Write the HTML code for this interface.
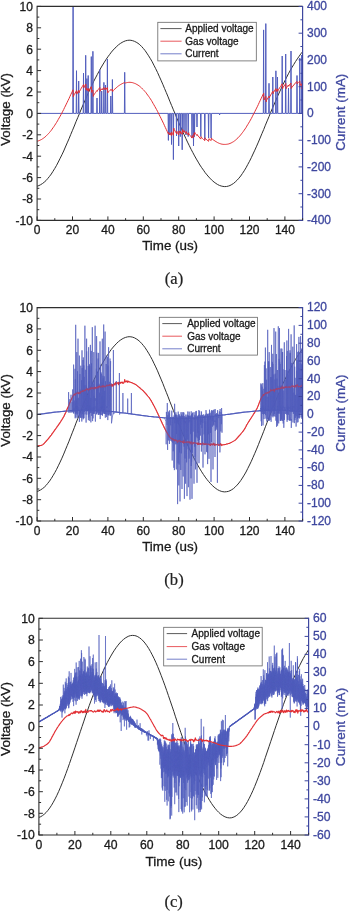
<!DOCTYPE html>
<html><head><meta charset="utf-8"><title>Voltage and current waveforms</title>
<style>
html,body{margin:0;padding:0;background:#fff;}
body{width:350px;height:911px;overflow:hidden;font-family:"Liberation Sans",sans-serif;}
svg{display:block;will-change:transform;}
text{font-family:"Liberation Sans",sans-serif;fill:#1a1a1a;stroke:#1a1a1a;stroke-width:0.3px;}
.tk{font-size:12px;}
.tt{font-size:13.35px;}
.lg{font-size:10px;}
.bl{fill:#3e479f;stroke:#3e479f;}
.cap{font-family:"Liberation Serif",serif;font-size:16.6px;fill:#222;stroke:#222;stroke-width:0.2px;}
</style></head><body>
<svg width="350" height="911" viewBox="0 0 350 911">
<rect width="350" height="911" fill="#fff"/>
<clipPath id="ca"><rect x="37.1" y="6.4" width="265.5" height="214"/></clipPath>
<path d="M37.1,186.2L38.9,185.6L40.6,184.7L42.4,183.6L44.2,182.2L46,180.6L47.7,178.6L49.5,176.4L51.3,174L53,171.3L54.8,168.4L56.6,165.3L58.3,162L60.1,158.4L61.9,154.8L63.7,151L65.4,147L67.2,142.9L69,138.8L70.7,134.6L72.5,130.3L74.3,126L76,121.7L77.8,117.5L79.6,113.2L81.3,109L83.1,104.8L84.9,100.7L86.7,96.6L88.4,92.7L90.2,88.8L92,85.1L93.7,81.4L95.5,77.9L97.3,74.5L99.1,71.2L100.8,68L102.6,65L104.4,62.1L106.1,59.4L107.9,56.8L109.7,54.4L111.4,52.1L113.2,50L115,48.1L116.8,46.4L118.5,44.8L120.3,43.5L122.1,42.4L123.8,41.5L125.6,40.8L127.4,40.4L129.1,40.2L130.9,40.3L132.7,40.7L134.4,41.3L136.2,42.2L138,43.3L139.8,44.7L141.5,46.4L143.3,48.4L145.1,50.6L146.8,53.1L148.6,55.8L150.4,58.7L152.2,61.8L153.9,65.2L155.7,68.7L157.5,72.4L159.2,76.2L161,80.2L162.8,84.3L164.5,88.4L166.3,92.6L168.1,96.9L169.8,101.2L171.6,105.5L173.4,109.8L175.2,114L176.9,118.3L178.7,122.4L180.5,126.5L182.2,130.6L184,134.5L185.8,138.4L187.5,142.1L189.3,145.7L191.1,149.3L192.9,152.7L194.6,155.9L196.4,159.1L198.2,162.1L199.9,165L201.7,167.7L203.5,170.2L205.2,172.7L207,174.9L208.8,177L210.6,178.9L212.3,180.6L214.1,182.1L215.9,183.4L217.6,184.5L219.4,185.4L221.2,186L222.9,186.4L224.7,186.6L226.5,186.5L228.3,186.1L230,185.5L231.8,184.5L233.6,183.4L235.3,181.9L237.1,180.2L238.9,178.2L240.7,176L242.4,173.5L244.2,170.8L246,167.8L247.7,164.6L249.5,161.3L251.3,157.7L253,154L254.8,150.2L256.6,146.2L258.4,142.1L260.1,138L261.9,133.7L263.7,129.5L265.4,125.2L267.2,120.9L269,116.6L270.7,112.3L272.5,108.1L274.3,104L276.1,99.9L277.8,95.8L279.6,91.9L281.4,88.1L283.1,84.3L284.9,80.7L286.7,77.2L288.4,73.8L290.2,70.5L292,67.4L293.8,64.4L295.5,61.6L297.3,58.9L299.1,56.3L300.8,53.9L302.6,51.7" fill="none" stroke="#303030" stroke-width="1.0" stroke-linejoin="round" clip-path="url(#ca)"/>
<path d="M37.1,113.4L72.8,113.4L73.1,-20L73.4,113.4L76.2,113.4L76.5,70.7L76.8,113.4L78.4,113.4L78.7,81L79,113.4L83.2,113.4L83.5,73L83.8,113.4L85.4,113.4L85.7,55.3L86,113.4L86.6,113.4L86.9,78.6L87.2,113.4L87.9,113.4L88.2,75.5L88.5,113.4L91,113.4L91.3,56.6L91.6,113.4L92.6,113.4L92.9,51.3L93.2,113.4L96.7,113.4L97,98L97.3,113.4L99.5,113.4L99.8,69.8L100.1,113.4L101.4,113.4L101.7,91L102,113.4L103.6,113.4L103.9,82.4L104.2,113.4L105.2,113.4L105.5,85L105.8,113.4L107.1,113.4L107.4,59L107.7,113.4L110.5,113.4L110.8,96L111.1,113.4L112.1,113.4L112.4,79.5L112.7,113.4L124.4,113.4L124.7,72.3L125,113.4L168.1,113.4L168.4,140.4L168.7,113.4L169.6,113.4L169.9,135L170.2,113.4L171.2,113.4L171.5,144.5L171.8,113.4L173.1,113.4L173.4,159.6L173.7,113.4L176.2,113.4L176.5,136L176.8,113.4L178.4,113.4L178.7,146L179,113.4L180,113.4L180.3,136.6L180.6,113.4L181.9,113.4L182.2,149.8L182.5,113.4L183.7,113.4L184,131.9L184.3,113.4L185.7,113.4L186,135L186.3,113.4L187.9,113.4L188.2,136.6L188.5,113.4L191.7,113.4L192,138L192.3,113.4L193.2,113.4L193.5,146L193.8,113.4L194.2,113.4L194.5,136.6L194.8,113.4L196.7,113.4L197,127L197.3,113.4L200.5,113.4L200.8,136.6L201.1,113.4L204.5,113.4L204.8,139.7L205.1,113.4L208.3,113.4L208.6,138L208.9,113.4L210.8,113.4L211.1,138L211.4,113.4L219.3,113.4L219.6,115L219.9,113.4L263.3,113.4L263.6,29.9L263.9,113.4L265.5,113.4L265.8,23.6L266.1,113.4L268.7,113.4L269,83.3L269.3,113.4L272.5,113.4L272.8,77L273.1,113.4L275.6,113.4L275.9,70.8L276.2,113.4L277.2,113.4L277.5,77L277.8,113.4L281.9,113.4L282.2,56L282.5,113.4L285.4,113.4L285.7,54L286,113.4L288.2,113.4L288.5,88L288.8,113.4L290.7,113.4L291,51L291.3,113.4L296.7,113.4L297,75.5L297.3,113.4L299.5,113.4L299.8,58L300.1,113.4L301.4,113.4L301.7,55L302,113.4L302.6,113.4" fill="none" stroke="#525ebd" stroke-width="1.0" stroke-linejoin="round" clip-path="url(#ca)"/>
<path d="M37.1,141.2L38,141L38.9,140.7L39.8,140.3L40.6,139.9L41.5,139.5L42.4,138.9L43.3,138.3L44.2,137.7L45.1,136.9L46,136.2L46.8,135.3L47.7,134.4L48.6,133.5L49.5,132.5L50.4,131.4L51.3,130.3L52.1,129.1L53,127.8L53.9,126.6L54.8,125.2L55.7,123.8L56.6,122.4L57.5,120.9L58.3,119.4L59.2,117.9L60.1,116.3L61,114.6L61.9,113L62.8,111.2L63.7,109.5L64.5,107.7L65.4,106L66.3,104.1L67.2,102.3L68.1,100.4L69,98.6L69.8,96.7L70.7,94.8L71.6,92.9L72.5,91L73,89.8L73.4,96.8L73.4,96.1L74.3,94.6L75.2,93L76,91.5L76.6,90.6L77,94.1L76.9,93.5L77.8,92L78.7,90.4L79.1,92.8L79.6,91.2L80.5,89.7L81.3,88.2L82.2,86.7L83.1,85.2L83.5,84.6L83.9,87.8L84,87L84.9,85.5L85.8,84L86.2,89.9L86.7,88.4L86.8,88.2L87.2,90.7L87.5,89.6L88.3,88.5L88.7,91.4L88.4,91.1L89.3,89.7L90.2,88.4L91.1,87L91.3,86.7L91.7,92.4L92,91.3L92.9,90L93.3,96.4L93.7,95.1L94.6,93.8L95.5,92.6L96.4,91.3L96.9,90.6L97.3,91.3L97.3,90.8L98.2,89.6L99.1,88.4L99.8,87.5L100.2,91.2L99.9,91L100.8,89.9L101.7,88.8L102.1,90L102.6,89L103.5,87.9L103.8,87.5L104.2,89.7L104.4,89L105.2,88L105.4,87.8L105.8,89.7L106.1,88.9L107,88L107.4,87.6L107.8,92.9L107.9,92.4L108.8,91.5L109.7,90.6L110.6,89.8L110.7,89.6L111.1,90.5L111.4,89.8L112.3,89.1L112.7,91.5L113.2,90.6L114.1,89.7L115,88.9L115.9,88.1L116.8,87.3L117.6,86.6L118.5,85.9L119.4,85.3L120.3,84.7L121.2,84.2L122.1,83.7L122.9,83.3L123.8,82.9L124.7,82.6L125.1,83.1L125.6,82.9L126.5,82.7L127.4,82.5L128.3,82.4L129.1,82.3L130,82.3L130.9,82.4L131.8,82.5L132.7,82.7L133.6,83L134.4,83.3L135.3,83.6L136.2,84.1L137.1,84.6L138,85.1L138.9,85.7L139.8,86.4L140.6,87.1L141.5,87.9L142.4,88.8L143.3,89.7L144.2,90.6L145.1,91.7L146,92.7L146.8,93.9L147.7,95.1L148.6,96.3L149.5,97.6L150.4,98.9L151.3,100.3L152.2,101.8L153,103.3L153.9,104.8L154.8,106.4L155.7,108L156.6,109.6L157.5,111.3L158.3,113L159.2,114.7L160.1,116.5L161,118.3L161.9,120.1L162.8,122L163.7,123.8L164.5,125.7L165.4,127.6L166.3,129.5L167.2,131.4L168.1,133.3L168.4,134.1L168.8,132.5L169,133.4L169.8,135L170.2,132.9L170.7,134.4L171.4,135.6L171.8,131.9L171.6,132.2L172.5,133.7L173.4,135.3L173.8,128.1L174.3,129.7L175.2,131.2L176,132.7L176.6,133.6L177,131.4L176.9,132L177.8,133.5L178.7,135L179.1,130.9L179.6,132.4L180.3,133.5L180.7,131.2L180.5,131.5L181.4,132.9L182.2,134.4L182.6,129.5L183.1,130.9L184,132.3L184.4,130.7L184.9,132.1L185.8,133.5L186,133.7L186.4,131.6L186.7,132.7L187.5,134L188.3,135.1L188.7,132.7L188.4,133L189.3,134.3L190.2,135.6L191.1,136.8L192,138.1L192.4,135.5L192.9,136.7L193.6,137.6L194,133.5L193.7,133.8L194.5,134.7L194.9,132.3L194.6,132.6L195.5,133.7L196.4,134.8L196.9,135.5L197.3,134.5L197.3,134.9L198.2,136L199.1,137L199.9,138.1L200.8,139.1L201.2,136.7L201.7,137.6L202.6,138.6L203.5,139.5L204.4,140.4L204.7,140.7L205.1,137.8L205.2,138.3L206.1,139.2L207,140L207.9,140.7L208.6,141.3L209,138.7L208.8,138.9L209.7,139.6L210.6,140.2L211.1,140.6L211.5,138L211.4,138.3L212.3,139.1L213.2,139.8L214.1,140.4L215,141L215.9,141.6L216.8,142.1L217.6,142.6L218.5,143L219.4,143.4L220.3,143.7L221.2,144L222.1,144.2L222.9,144.3L223.8,144.4L224.7,144.4L225.6,144.4L226.5,144.3L227.4,144.2L228.3,144L229.1,143.8L230,143.4L230.9,143.1L231.8,142.6L232.7,142.1L233.6,141.6L234.5,140.9L235.3,140.3L236.2,139.5L237.1,138.7L238,137.8L238.9,136.9L239.8,135.9L240.7,134.9L241.5,133.8L242.4,132.7L243.3,131.5L244.2,130.2L245.1,128.9L246,127.6L246.8,126.1L247.7,124.7L248.6,123.2L249.5,121.7L250.4,120.1L251.3,118.5L252.2,116.8L253,115.1L253.9,113.4L254.8,111.7L255.7,109.9L256.6,108.1L257.5,106.3L258.4,104.4L259.2,102.6L260.1,100.7L261,98.8L261.9,96.9L262.8,95L263.7,93.1L264.1,100L264.5,98.5L265.4,96.9L265.8,96.3L266.2,101.8L266.3,100.8L267.2,99.3L268.1,97.7L269,96.2L269.4,97.9L269.9,96.4L270.7,94.9L271.6,93.4L272.5,91.8L272.9,91.2L273.3,93.6L273.4,92.7L274.3,91.2L275.2,89.7L275.9,88.5L276.3,91.6L276.1,91.3L276.9,89.8L277.5,89L277.9,91.3L277.8,90.8L278.7,89.3L279.6,87.9L280.5,86.5L281.4,85.2L282.2,83.8L282.6,88.7L283.1,87.4L284,86L284.9,84.8L285.8,83.5L286.2,88.6L286.7,87.4L287.6,86.2L288.4,85L288.8,86.3L289.3,85.1L290.2,83.9L290.9,83L291.3,88.5L291.1,88.3L292,87.2L292.9,86.1L293.8,85L294.6,84L295.5,82.9L296.4,82L296.9,81.4L297.3,83.9L297.3,83.5L298.2,82.6L299.1,81.7L299.8,81L300.2,85.6L299.9,85.4L300.8,84.6L301.7,83.7L302.1,88.8L302.6,87.8" fill="none" stroke="#e22f34" stroke-width="1.0" stroke-linejoin="round" clip-path="url(#ca)"/>
<rect x="157.8" y="22.3" width="98.5" height="38.6" fill="#fff" stroke="#666" stroke-width="0.8"/>
<path d="M160.4,28.6H181.6" stroke="#303030" stroke-width="0.8"/>
<text x="185.3" y="32.2" class="lg">Applied voltage</text>
<path d="M160.4,41.2H181.6" stroke="#e22f34" stroke-width="0.8"/>
<text x="185.3" y="44.8" class="lg">Gas voltage</text>
<path d="M160.4,53.8H181.6" stroke="#525ebd" stroke-width="0.8"/>
<text x="185.3" y="57.4" class="lg">Current</text>
<path d="M302.6,6.4L37.1,6.4L37.1,220.4L302.6,220.4" fill="none" stroke="#2e2e2e" stroke-width="1.1"/>
<path d="M302.6,5.9L302.6,220.9" fill="none" stroke="#3e479f" stroke-width="1.2"/>
<path d="M37.1,6.4h4M37.1,17.1h2.2M37.1,27.8h4M37.1,38.5h2.2M37.1,49.2h4M37.1,59.9h2.2M37.1,70.6h4M37.1,81.3h2.2M37.1,92h4M37.1,102.7h2.2M37.1,113.4h4M37.1,124.1h2.2M37.1,134.8h4M37.1,145.5h2.2M37.1,156.2h4M37.1,166.9h2.2M37.1,177.6h4M37.1,188.3h2.2M37.1,199h4M37.1,209.7h2.2M37.1,220.4h4M37.1,220.4v-4M54.8,220.4v-2.2M72.5,220.4v-4M90.2,220.4v-2.2M107.9,220.4v-4M125.6,220.4v-2.2M143.3,220.4v-4M161,220.4v-2.2M178.7,220.4v-4M196.4,220.4v-2.2M214.1,220.4v-4M231.8,220.4v-2.2M249.5,220.4v-4M267.2,220.4v-2.2M284.9,220.4v-4M302.6,220.4v-2.2" stroke="#2e2e2e" stroke-width="1" fill="none"/>
<path d="M302.6,6.4h-4M302.6,19.8h-2.2M302.6,33.2h-4M302.6,46.5h-2.2M302.6,59.9h-4M302.6,73.3h-2.2M302.6,86.7h-4M302.6,100h-2.2M302.6,113.4h-4M302.6,126.8h-2.2M302.6,140.2h-4M302.6,153.5h-2.2M302.6,166.9h-4M302.6,180.3h-2.2M302.6,193.7h-4M302.6,207h-2.2M302.6,220.4h-4" stroke="#3e479f" stroke-width="1" fill="none"/>
<text x="32.9" y="10.7" text-anchor="end" class="tk">10</text>
<text x="32.9" y="32.1" text-anchor="end" class="tk">8</text>
<text x="32.9" y="53.5" text-anchor="end" class="tk">6</text>
<text x="32.9" y="74.9" text-anchor="end" class="tk">4</text>
<text x="32.9" y="96.3" text-anchor="end" class="tk">2</text>
<text x="32.9" y="117.7" text-anchor="end" class="tk">0</text>
<text x="32.9" y="139.1" text-anchor="end" class="tk">-2</text>
<text x="32.9" y="160.5" text-anchor="end" class="tk">-4</text>
<text x="32.9" y="181.9" text-anchor="end" class="tk">-6</text>
<text x="32.9" y="203.3" text-anchor="end" class="tk">-8</text>
<text x="32.9" y="224.7" text-anchor="end" class="tk">-10</text>
<text x="37.1" y="234.2" text-anchor="middle" class="tk">0</text>
<text x="72.5" y="234.2" text-anchor="middle" class="tk">20</text>
<text x="107.9" y="234.2" text-anchor="middle" class="tk">40</text>
<text x="143.3" y="234.2" text-anchor="middle" class="tk">60</text>
<text x="178.7" y="234.2" text-anchor="middle" class="tk">80</text>
<text x="214.1" y="234.2" text-anchor="middle" class="tk">100</text>
<text x="249.5" y="234.2" text-anchor="middle" class="tk">120</text>
<text x="284.9" y="234.2" text-anchor="middle" class="tk">140</text>
<text x="307" y="10.2" class="tk bl">400</text>
<text x="307" y="37" class="tk bl">300</text>
<text x="307" y="63.7" class="tk bl">200</text>
<text x="307" y="90.5" class="tk bl">100</text>
<text x="307" y="117.2" class="tk bl">0</text>
<text x="307" y="144" class="tk bl">-100</text>
<text x="307" y="170.7" class="tk bl">-200</text>
<text x="307" y="197.5" class="tk bl">-300</text>
<text x="307" y="224.2" class="tk bl">-400</text>
<text transform="translate(9.7,109.5) rotate(-90)" text-anchor="middle" class="tt">Voltage (kV)</text>
<text transform="translate(345,112.3) rotate(-90)" text-anchor="middle" class="tt bl">Current (mA)</text>
<text x="170.1" y="250.4" text-anchor="middle" class="tt">Time (us)</text>
<text x="174" y="283.5" text-anchor="middle" class="cap">(a)</text>
<clipPath id="cb"><rect x="37.1" y="307.6" width="265.5" height="213.4"/></clipPath>
<path d="M37.1,491.5L38.9,490.8L40.6,489.9L42.4,488.7L44.2,487.3L46,485.5L47.7,483.4L49.5,481.1L51.3,478.5L53,475.7L54.8,472.6L56.6,469.3L58.3,465.8L60.1,462.1L61.9,458.2L63.7,454.1L65.4,449.9L67.2,445.6L69,441.2L70.7,436.8L72.5,432.2L74.3,427.7L76,423.1L77.8,418.6L79.6,414.1L81.3,409.6L83.1,405.2L84.9,400.8L86.7,396.5L88.4,392.3L90.2,388.2L92,384.3L93.7,380.4L95.5,376.7L97.3,373L99.1,369.6L100.8,366.2L102.6,363L104.4,360L106.1,357L107.9,354.3L109.7,351.7L111.4,349.3L113.2,347.1L115,345.1L116.8,343.2L118.5,341.6L120.3,340.2L122.1,339L123.8,338.1L125.6,337.4L127.4,336.9L129.1,336.7L130.9,336.8L132.7,337.2L134.4,337.8L136.2,338.8L138,340L139.8,341.5L141.5,343.3L143.3,345.4L145.1,347.7L146.8,350.3L148.6,353.2L150.4,356.3L152.2,359.6L153.9,363.2L155.7,366.9L157.5,370.8L159.2,374.9L161,379.1L162.8,383.4L164.5,387.8L166.3,392.3L168.1,396.8L169.8,401.4L171.6,405.9L173.4,410.5L175.2,415L176.9,419.5L178.7,423.9L180.5,428.2L182.2,432.5L184,436.7L185.8,440.8L187.5,444.7L189.3,448.6L191.1,452.3L192.9,455.9L194.6,459.4L196.4,462.7L198.2,465.9L199.9,468.9L201.7,471.8L203.5,474.6L205.2,477.1L207,479.5L208.8,481.7L210.6,483.7L212.3,485.5L214.1,487.1L215.9,488.5L217.6,489.7L219.4,490.6L221.2,491.3L222.9,491.7L224.7,491.9L226.5,491.7L228.3,491.4L230,490.7L231.8,489.7L233.6,488.5L235.3,486.9L237.1,485.1L238.9,483L240.7,480.6L242.4,478L244.2,475.1L246,472L247.7,468.6L249.5,465L251.3,461.3L253,457.4L254.8,453.3L256.6,449.1L258.4,444.7L260.1,440.3L261.9,435.9L263.7,431.3L265.4,426.8L267.2,422.2L269,417.7L270.7,413.2L272.5,408.7L274.3,404.3L276.1,399.9L277.8,395.7L279.6,391.5L281.4,387.4L283.1,383.5L284.9,379.6L286.7,375.9L288.4,372.3L290.2,368.9L292,365.6L293.8,362.4L295.5,359.4L297.3,356.5L299.1,353.8L300.8,351.2L302.6,348.9" fill="none" stroke="#303030" stroke-width="1.0" stroke-linejoin="round" clip-path="url(#cb)"/>
<path d="M37.1,445.9L37.5,445.9L38,445.9L38.4,445.8L38.9,445.7L39.3,445.7L39.8,445.6L40.2,445.6L40.6,445.5L41.1,445.4L41.5,445.3L42,445.1L42.4,444.9L42.9,444.6L43.3,444.2L43.7,443.8L44.2,443.3L44.6,442.8L45.1,442.3L45.5,441.8L46,441.3L46.4,440.8L46.8,440.3L47.3,439.8L47.7,439.3L48.2,438.8L48.6,438.3L49,437.8L49.5,437.3L49.9,436.7L50.4,436.1L50.8,435.6L51.3,435L51.7,434.4L52.1,433.7L52.6,433.1L53,432.5L53.5,431.9L53.9,431.3L54.4,430.6L54.8,430L55.2,429.4L55.7,428.8L56.1,428.2L56.6,427.5L57,426.9L57.5,426.3L57.9,425.7L58.3,425.1L58.8,424.4L59.2,423.8L59.7,423.2L60.1,422.5L60.6,421.8L61,421.1L61.4,420.4L61.9,419.7L62.3,419L62.8,418.3L63.2,417.5L63.7,416.7L64.1,415.9L64.5,415.1L65,414.1L65.4,413.2L65.9,412.2L66.3,411.1L66.7,410.1L67.2,409.1L67.6,408L68.1,407L68.5,406L69,404.9L69.4,403.9L69.8,402.8L70.3,401.8L70.7,400.7L71.2,399.7L71.6,398.7L72.1,397.8L72.5,396.9L72.9,396.2L73.4,395.6L73.8,394.8L74.3,394L74.7,394.6L75.2,395.3L75.6,393.8L76,393.1L76.5,393.6L76.9,393.5L77.4,393L77.8,392.3L78.3,393.1L78.7,393.8L79.1,393L79.6,392.6L80,393.5L80.5,391.7L80.9,392.4L81.3,391.4L81.8,391.5L82.2,391.6L82.7,390.2L83.1,391.4L83.6,391.3L84,390.5L84.4,390L84.9,390.3L85.3,390.8L85.8,389.6L86.2,389.5L86.7,388.4L87.1,389.7L87.5,389.3L88,389.7L88.4,390.1L88.9,389L89.3,388.3L89.8,389.4L90.2,389L90.6,389.2L91.1,387.4L91.5,388.6L92,387.7L92.4,388.5L92.9,387.8L93.3,388.1L93.7,389.1L94.2,387.5L94.6,387.1L95.1,388.7L95.5,387.5L96,387.6L96.4,387.9L96.8,387.3L97.3,388.3L97.7,386.9L98.2,386.2L98.6,387.7L99.1,386.9L99.5,385.9L99.9,386.6L100.4,387L100.8,387.2L101.3,386.4L101.7,386.5L102.1,386L102.6,387.3L103,385.6L103.5,386.5L103.9,385.7L104.4,386.5L104.8,386.9L105.2,386.3L105.7,386.5L106.1,386.1L106.6,385.3L107,385L107.5,385.5L107.9,385.9L108.3,385.7L108.8,385L109.2,384.5L109.7,385.4L110.1,385.2L110.6,385.5L111,384.8L111.4,384.2L111.9,386.6L112.3,384.5L112.8,384.9L113.2,385.9L113.7,384.1L114.1,384.3L114.5,383.9L115,385L115.4,382.6L115.9,383.8L116.3,384L116.8,382.7L117.2,383.2L117.6,383L118.1,382.7L118.5,384.7L119,382.2L119.4,383.4L119.8,382.9L120.3,382.4L120.7,383.3L121.2,382.6L121.6,382.2L122.1,382.6L122.5,382.2L122.9,383.4L123.4,383L123.8,382.9L124.3,381.8L124.7,379.6L125.2,381.7L125.6,381.9L126,381.7L126.5,381L126.9,381.2L127.4,382.3L127.8,381L128.3,381.7L128.7,381.3L129.1,381.9L129.6,382L130,382.1L130.5,382.2L130.9,382.4L131.4,382.5L131.8,382.7L132.2,382.9L132.7,383.1L133.1,383.3L133.6,383.5L134,383.7L134.4,383.9L134.9,384.1L135.3,384.4L135.8,384.6L136.2,384.9L136.7,385.3L137.1,385.6L137.5,386L138,386.4L138.4,386.7L138.9,387.1L139.3,387.5L139.8,387.8L140.2,388.2L140.6,388.6L141.1,389L141.5,389.3L142,389.7L142.4,390.1L142.9,390.5L143.3,390.9L143.7,391.4L144.2,391.9L144.6,392.4L145.1,392.9L145.5,393.4L146,393.9L146.4,394.4L146.8,394.9L147.3,395.4L147.7,396L148.2,396.5L148.6,397L149.1,397.5L149.5,398.1L149.9,398.7L150.4,399.4L150.8,400.1L151.3,400.9L151.7,401.7L152.2,402.5L152.6,403.3L153,404.1L153.5,404.9L153.9,405.7L154.4,406.5L154.8,407.4L155.2,408.2L155.7,409.1L156.1,410L156.6,410.9L157,411.9L157.5,412.9L157.9,413.8L158.3,414.8L158.8,415.8L159.2,416.8L159.7,417.7L160.1,418.7L160.6,419.7L161,420.6L161.4,421.6L161.9,422.5L162.3,423.5L162.8,424.4L163.2,425.3L163.7,426.3L164.1,427.2L164.5,428.1L165,429L165.4,429.8L165.9,430.7L166.3,431.5L166.8,432.3L167.2,433.1L167.6,433.8L168.1,434.5L168.5,435.2L169,435.8L169.4,436.4L169.8,436.9L170.3,437.8L170.7,438.2L171.2,438.2L171.6,438.3L172.1,439.2L172.5,438.7L172.9,440L173.4,439L173.8,439.4L174.3,440.9L174.7,439.9L175.2,440.4L175.6,439.7L176,440.8L176.5,440.3L176.9,440.3L177.4,442.4L177.8,442L178.3,440.7L178.7,441L179.1,440.3L179.6,440.9L180,441.9L180.5,441L180.9,441.8L181.4,441.5L181.8,441.7L182.2,441.3L182.7,442.5L183.1,442.3L183.6,443.1L184,440.3L184.5,442.4L184.9,442.4L185.3,442.6L185.8,442.3L186.2,442.3L186.7,441.6L187.1,442L187.5,441.9L188,442.6L188.4,442.3L188.9,441.5L189.3,442.4L189.8,442.2L190.2,443.8L190.6,442.2L191.1,442.4L191.5,441.8L192,444.4L192.4,442.7L192.9,442.9L193.3,442.8L193.7,443.3L194.2,442.8L194.6,442.5L195.1,443L195.5,443.2L196,443.2L196.4,443.4L196.8,443.2L197.3,443.7L197.7,444.6L198.2,442.5L198.6,444.5L199.1,443.5L199.5,444.3L199.9,443.7L200.4,444.2L200.8,443.6L201.3,444.2L201.7,444.5L202.2,443.5L202.6,442.9L203,443.6L203.5,443.8L203.9,444.6L204.4,444L204.8,443.7L205.2,444.4L205.7,443.5L206.1,444.1L206.6,443.9L207,444.5L207.5,444.5L207.9,444.1L208.3,444L208.8,444L209.2,444.9L209.7,444.8L210.1,444.3L210.6,445.5L211,443.7L211.4,444.2L211.9,444.4L212.3,444.9L212.8,443.9L213.2,444.6L213.7,443.2L214.1,444.2L214.5,445.4L215,444L215.4,444.9L215.9,444.9L216.3,444.7L216.8,444.7L217.2,444.4L217.6,444.1L218.1,444.3L218.5,445.1L219,445.5L219.4,445.2L219.9,444.5L220.3,444.2L220.7,443.6L221.2,445.6L221.6,444.7L222.1,444.9L222.5,445L222.9,444.8L223.4,444.8L223.8,444.7L224.3,444.7L224.7,444.6L225.2,444.5L225.6,444.4L226,444.3L226.5,444.1L226.9,444L227.4,443.9L227.8,443.8L228.3,443.6L228.7,443.5L229.1,443.4L229.6,443.2L230,443L230.5,442.8L230.9,442.6L231.4,442.4L231.8,442.1L232.2,441.9L232.7,441.6L233.1,441.4L233.6,441.1L234,440.9L234.5,440.6L234.9,440.3L235.3,440L235.8,439.6L236.2,439.2L236.7,438.7L237.1,438.2L237.6,437.7L238,437.2L238.4,436.7L238.9,436.1L239.3,435.6L239.8,435.1L240.2,434.6L240.7,434.1L241.1,433.5L241.5,433L242,432.5L242.4,432L242.9,431.4L243.3,430.9L243.7,430.3L244.2,429.6L244.6,428.9L245.1,428.1L245.5,427.3L246,426.4L246.4,425.6L246.8,424.8L247.3,424L247.7,423.3L248.2,422.5L248.6,421.8L249.1,421.2L249.5,420.5L249.9,419.8L250.4,419.1L250.8,418.4L251.3,417.7L251.7,417L252.2,416.3L252.6,415.7L253,415L253.5,414.3L253.9,413.6L254.4,412.9L254.8,412.2L255.3,411.5L255.7,410.8L256.1,410.1L256.6,409.3L257,408.4L257.5,407.4L257.9,406.4L258.4,405.3L258.8,404.1L259.2,402.9L259.7,401.7L260.1,400.6L260.6,399.5L261,398.6L261.4,397.7L261.9,397L262.3,396.3L262.8,395.8L263.2,394.5L263.7,395.5L264.1,394.2L264.5,394.6L265,393.5L265.4,393.5L265.9,392.7L266.3,393.3L266.8,393.6L267.2,392.6L267.6,392.4L268.1,393L268.5,392.3L269,392.8L269.4,391.5L269.9,391.6L270.3,391.2L270.7,389.4L271.2,390.8L271.6,390.4L272.1,390.1L272.5,390.5L273,390.6L273.4,389.5L273.8,389.3L274.3,391.7L274.7,389.8L275.2,389.8L275.6,389.8L276.1,388.5L276.5,389.5L276.9,388.5L277.4,389.3L277.8,389.1L278.3,388.2L278.7,389L279.1,388.5L279.6,389L280,388.7L280.5,387.6L280.9,387.6L281.4,388.6L281.8,388.5L282.2,386.1L282.7,388.1L283.1,388.2L283.6,387.2L284,388L284.5,387.7L284.9,386.9L285.3,386.7L285.8,387.5L286.2,386.4L286.7,387.3L287.1,387.4L287.6,387.2L288,387.3L288.4,386.7L288.9,386.8L289.3,387.5L289.8,386.8L290.2,387.2L290.7,387.2L291.1,386.9L291.5,386.1L292,386.5L292.4,385.9L292.9,385.6L293.3,386.6L293.8,386.9L294.2,387L294.6,386.3L295.1,385.8L295.5,385.3L296,387.1L296.4,385.7L296.8,385.5L297.3,384.6L297.7,386L298.2,386.1L298.6,387L299.1,386.5L299.5,386.6L299.9,386.5L300.4,386.4L300.8,386.8L301.3,385.8L301.7,385.5L302.2,385.2L302.6,385.7" fill="none" stroke="#e22f34" stroke-width="1.05" stroke-linejoin="round" clip-path="url(#cb)"/>
<path d="M37.1,414.5L38.9,414.3L40.6,414.1L42.4,413.8L44.2,413.6L46,413.3L47.7,413.1L49.5,412.9L51.3,412.7L53,412.4L54.8,412.2L56.6,412L58.3,411.8L60.1,411.7L61.9,411.5L63.7,411.3L65.4,411.1L67.2,411L69,410.9L70.7,410.7L72.5,410.6L74.3,410.5L76,410.4L77.8,410.4L79.6,410.3L81.3,410.3L83.1,410.2L84.9,410.2L86.7,410.2L88.4,410.2L90.2,410.2L92,410.3L93.7,410.3L95.5,410.4L97.3,410.5L99.1,410.6L100.8,410.7L102.6,410.8L104.4,410.9L106.1,411.1L107.9,411.2L109.7,411.4L111.4,411.6L113.2,411.7L115,411.9L116.8,412.1L118.5,412.3L120.3,412.6L122.1,412.8L123.8,413L125.6,413.2L127.4,413.5L129.1,413.7L130.9,413.9L132.7,414.2L134.4,414.4L136.2,414.7L138,414.9L139.8,415.1L141.5,415.4L143.3,415.6L145.1,415.8L146.8,416L148.6,416.3L150.4,416.5L152.2,416.7L153.9,416.9L155.7,417L157.5,417.2L159.2,417.4L161,417.5L162.8,417.7L164.5,417.8L166.3,417.9L168.1,418L169.8,418.1L171.6,418.2L173.4,418.3L175.2,418.3L176.9,418.4L178.7,418.4L180.5,418.4L182.2,418.4L184,418.4L185.8,418.3L187.5,418.3L189.3,418.2L191.1,418.2L192.9,418.1L194.6,418L196.4,417.9L198.2,417.7L199.9,417.6L201.7,417.5L203.5,417.3L205.2,417.1L207,416.9L208.8,416.8L210.6,416.6L212.3,416.4L214.1,416.2L215.9,415.9L217.6,415.7L219.4,415.5L221.2,415.3L222.9,415L224.7,414.8L226.5,414.5L228.3,414.3L230,414.1L231.8,413.8L233.6,413.6L235.3,413.3L237.1,413.1L238.9,412.9L240.7,412.7L242.4,412.4L244.2,412.2L246,412L247.7,411.8L249.5,411.7L251.3,411.5L253,411.3L254.8,411.1L256.6,411L258.4,410.9L260.1,410.7L261.9,410.6L263.7,410.5L265.4,410.4L267.2,410.4L269,410.3L270.7,410.3L272.5,410.2L274.3,410.2L276.1,410.2L277.8,410.2L279.6,410.2L281.4,410.3L283.1,410.3L284.9,410.4L286.7,410.5L288.4,410.6L290.2,410.7L292,410.8L293.8,410.9L295.5,411.1L297.3,411.2L299.1,411.4L300.8,411.6L302.6,411.7" fill="none" stroke="#525ebd" stroke-width="1.25" stroke-linejoin="round" clip-path="url(#cb)"/>
<path d="M37.1,414.5L38.9,414.3L40.6,414.1L42.4,413.8L44.2,413.6L46,413.3L47.7,413.1L49.5,412.9L51.3,412.7L53,412.4L54.8,412.2L56.6,412L58.3,411.8L60.1,411.7L61.9,411.5L63.7,411.3L65.4,411.1L67.2,411L68.4,410.9L68.6,392.1L68.8,412.7L69,410.9L69.6,410.8L69.8,399.2L70,412.6L70.7,410.7L70.8,410.7L71,394.7L71.2,412.5L71.9,410.7L72.1,401.9L72.3,412.4L72.5,410.6L72.5,408.4L72.7,389.4L72.9,411.4L73.1,408.3L73.3,395.2L73.4,406.8L73.5,412.9L73.6,364.6L73.8,413.7L74.1,408.9L74.3,410.5L74.3,400.5L74.5,411.6L74.6,408L74.8,407.9L74.8,383.5L75,368.8L75,411.1L75.2,418.3L75.2,408.3L75.4,379.1L75.5,409.9L75.6,413.9L75.7,324.8L75.9,417.4L75.9,406.3L76,410.4L76.1,391.7L76.3,413.4L76.4,405.7L76.6,400.7L76.6,407.8L76.8,412.5L76.8,352.1L76.8,406.9L77,414.7L77,398.4L77.2,418.3L77.3,406.5L77.4,410.1L77.5,371.3L77.6,373.7L77.7,413.8L77.8,413.1L77.8,407.2L77.8,410.4L78,338.7L78.2,416.8L78.3,409.1L78.4,406.2L78.4,398.7L78.6,397.8L78.6,410.9L78.8,410.5L79,408.9L79.2,403.4L79.2,380.6L79.4,355.6L79.4,421.9L79.6,410.3L79.6,415.1L79.7,406.5L79.9,374L80,409.4L80.1,411L80.2,389.7L80.4,417.6L80.6,408.3L80.7,408L80.8,365.7L80.9,386.5L80.9,416.7L81,418L81.3,410.3L81.4,409L81.6,380.2L81.8,421.5L81.8,407.6L82,350.3L82,405.6L82.1,409.6L82.2,417.7L82.2,368.1L82.2,376.9L82.4,414.1L82.4,410.4L82.8,408L83,360L83.1,404.8L83.1,410.2L83.2,419.3L83.2,409.4L83.3,357.4L83.4,368.7L83.5,413L83.6,418.1L83.6,405.8L83.8,365.4L84,418.2L84,407.5L84.2,376.9L84.4,411.9L84.7,409.9L84.7,406.6L84.9,385.3L84.9,410.2L84.9,325.7L85,414.4L85.1,410.9L85.1,406.4L85.3,369.8L85.5,410.9L85.7,407L85.9,392.3L86.1,422.6L86.1,409.2L86.3,385.1L86.4,408.3L86.5,407.7L86.5,411.3L86.6,338.7L86.7,410.2L86.7,351.4L86.8,414.7L86.9,410.7L87,408.9L87.2,387.9L87.4,410.9L87.5,407.5L87.7,395.1L87.9,411.4L88,405.8L88.2,365.9L88.2,407.8L88.4,420.2L88.4,405.4L88.4,389.7L88.4,410.2L88.6,347.2L88.6,410.5L88.8,406.2L88.8,417.4L89,381.1L89.2,414.2L89.3,409.6L89.5,364.3L89.6,408.5L89.7,420.8L89.8,366.2L90,413.1L90.1,405.1L90.2,410.2L90.2,406.2L90.3,361.9L90.4,344.9L90.5,411L90.5,406.1L90.6,412.7L90.7,397.8L90.9,422.4L91.1,408.4L91.3,350.9L91.4,409.4L91.5,412.6L91.5,363.4L91.7,415.9L92,410.3L92.1,407.6L92.2,409.7L92.3,327.2L92.4,357.7L92.5,410.9L92.6,421.1L92.7,405L92.9,381.8L93,407.1L93.1,418.4L93.1,383.9L93.3,414L93.6,409.8L93.6,407.1L93.7,410.3L93.8,386.1L93.8,352.1L93.9,406.8L94,412.5L94,413.5L94.1,396.4L94.2,409.2L94.3,413.8L94.4,380.1L94.6,411.8L94.9,408.3L95,406.2L95,408.6L95.1,325.7L95.2,400.7L95.2,398L95.3,418.5L95.4,421.6L95.4,412.6L95.5,410.4L95.8,405.9L96,399.2L96.2,411.1L96.2,410.3L96.4,368.8L96.4,408.9L96.6,414L96.6,336.1L96.8,409.2L96.8,414.5L96.9,352.7L96.9,406.7L97.1,412.7L97.1,384.3L97.3,410.5L97.3,411.6L97.4,408.4L97.6,372.5L97.8,412.5L97.9,409.1L98.1,358.5L98.3,414.7L98.3,409L98.4,403.9L98.5,387.9L98.6,352.9L98.7,414.9L98.8,410.8L98.9,408.7L99.1,410.6L99.1,383.8L99.3,413.4L99.4,406.8L99.6,392.7L99.8,406.4L99.8,414.7L99.9,405.9L100,341.4L100.1,374.4L100.2,419.1L100.3,410.1L100.3,412.8L100.5,364.8L100.7,414.5L100.7,406.4L100.8,410.7L100.9,372.1L101.1,415.1L101.2,407.7L101.4,373.6L101.6,411.2L101.8,405.7L102,409.1L102,382.3L102.1,409.1L102.2,396.1L102.2,415L102.3,338.7L102.4,415L102.5,415.7L102.6,410.8L102.7,406L102.9,375.7L103,407.8L103.1,411.4L103.2,378.5L103.4,413.4L103.5,404.4L103.7,324.5L103.8,409.8L103.9,412.1L104,399.9L104,409.8L104.2,413.8L104.2,376.3L104.4,410.9L104.4,414L104.5,408.1L104.7,391L104.9,413.1L104.9,407.3L105.1,331.6L105.2,410.3L105.3,409.8L105.3,417.7L105.4,384.5L105.5,381.2L105.6,412.6L105.6,414.1L106,411L106.1,411.1L106.2,364L106.4,417.1L106.6,409.8L106.7,406.5L106.8,408L106.8,397.9L106.9,355.6L107,377.8L107,413.7L107.1,414.4L107.2,413.4L107.5,405.9L107.6,357.1L107.8,408.6L107.8,420.1L107.9,411.2L108,409.2L108,365.6L108.2,399.6L108.2,415.2L108.4,413.4L108.4,406.5L108.5,406.2L108.6,347.2L108.7,376.5L108.8,415.4L108.9,413.9L109.4,410.8L109.4,408.5L109.6,394.5L109.6,381.8L109.7,411.4L109.7,412.8L109.8,414.4L109.8,410L110,358.5L110.2,415.8L110.3,410.3L110.4,407.5L110.5,372.6L110.6,361.1L110.7,413.8L110.8,415.3L111.1,411.2L111.3,383.6L111.4,411.6L111.5,423.3L113.2,411.8L113.2,411.7L113.4,350L113.6,414.2L115,411.9L116.1,412.1L116.3,381L116.5,412.3L116.8,412.1L118.5,412.3L119.2,412.4L119.4,373L119.6,414.5L120.3,412.6L122.1,412.8L122.7,412.9L122.9,393L123.1,412.9L123.8,413L125.6,413.2L127.4,413.5L127.5,413.5L127.7,398.6L127.9,413.9L129.1,413.7L130.9,413.9L131.2,414L131.4,393L131.6,414.3L132.7,414.2L134.4,414.4L136.2,414.7L138,414.9L139.8,415.1L141.5,415.4L143.3,415.6L145.1,415.8L146.8,416L148.6,416.3L150.4,416.5L152.2,416.7L153.9,416.9L155.7,417L157.5,417.2L159.2,417.4L161,417.5L162.8,417.7L164.5,417.8L166,421.6L166.2,444.3L166.3,417.9L166.4,411.9L166.9,422.3L167.1,425.1L167.3,403L167.4,420.1L167.4,418.4L167.6,449.9L167.6,434.1L167.8,415.2L167.8,417.1L168.1,418L168.2,421.7L168.4,440.5L168.6,411.6L168.8,420.3L169,437.6L169.2,413.4L169.2,418.4L169.4,444L169.6,410.4L169.8,418.1L170.1,422.5L170.3,440.7L170.5,417.2L170.5,423.5L170.7,425.3L170.9,417.5L171.4,421.3L171.6,441.4L171.6,418.2L171.8,410.7L172,418.5L172.2,460.5L172.4,417.6L172.5,418.9L172.7,442.8L172.9,416.8L173,422.3L173.2,451.3L173.4,418.3L173.4,417L173.7,420.4L173.9,467.8L174.1,415.4L174.2,421.3L174.4,470.1L174.6,403.8L175,423.2L175.2,418.3L175.2,440.5L175.4,415.1L175.5,423L175.7,444.3L175.9,412.3L176.1,418.4L176.3,469.4L176.3,419.1L176.5,414.7L176.5,434.1L176.7,418.2L176.8,423.6L176.9,418.4L177,444.3L177.2,417.3L177.4,424.8L177.6,504.1L177.8,415.3L177.8,423.4L178,419.5L178,463.3L178.2,455L178.2,411.6L178.4,416.4L178.6,421.6L178.7,418.4L178.8,485.4L178.9,423.7L179,414L179.1,464.6L179.3,415.6L179.3,421.6L179.5,452.5L179.7,415.6L179.8,419.3L180,501.4L180.2,416.5L180.3,420.1L180.5,418.4L180.5,443L180.6,421.8L180.7,416.5L180.8,470L181,412.2L181.1,421.9L181.3,453.4L181.5,414.6L181.8,420.1L182,489L182.1,420.3L182.2,412.2L182.2,418.4L182.3,441.4L182.5,415.8L182.9,420.1L183,423.4L183.1,458.8L183.2,476.5L183.3,413.5L183.4,412.3L183.5,422.1L183.7,435.6L183.9,412.6L183.9,421.7L184,418.4L184.1,446.6L184.2,418.4L184.3,416.1L184.4,498.8L184.6,418.2L184.8,421.4L185,458.4L185.2,416.9L185.4,423.3L185.4,421.5L185.6,459.6L185.6,483.7L185.8,418.3L185.8,418.2L185.8,414.6L186,423.6L186.2,440.9L186.4,416.7L186.4,421.7L186.6,462.4L186.8,418.3L186.8,421.4L187,496.1L187.2,414.7L187.4,419L187.5,418.3L187.6,439.5L187.8,411.5L187.9,418.4L188.1,449.3L188.2,419.6L188.3,415.3L188.4,487.2L188.6,416L188.8,422.8L188.9,420.5L189,435.3L189.1,458.6L189.2,411.7L189.3,418.2L189.3,416.1L189.6,421.3L189.8,420L189.8,443.2L190,499.7L190,417.4L190.2,415.5L190.4,423.2L190.6,434.1L190.8,416.4L190.8,423.4L191,478.3L191.1,418.2L191.1,422.2L191.2,411.3L191.3,466L191.4,422.4L191.5,414.4L191.6,461.7L191.8,416.2L191.8,418.9L192,498.8L192.2,422.1L192.2,413.4L192.4,452.8L192.6,412.6L192.9,418.1L193,420.1L193.2,431.7L193.4,417.5L193.7,420.6L193.8,420.8L193.9,431.8L194,483.7L194,412.2L194.2,416.9L194.5,419.6L194.6,418L194.7,446.7L194.8,418.5L194.9,414.9L195,457.2L195.2,416.3L195.3,419L195.4,418.7L195.5,469.4L195.6,425.8L195.7,417.6L195.8,411.4L195.9,420.8L196.1,436.8L196.3,410.9L196.4,417.9L196.8,421.4L197,482.8L197.1,421L197.2,416.3L197.2,438.2L197.4,417.6L197.5,420.1L197.7,432.8L197.9,420.7L197.9,415.8L198.1,441.1L198.2,417.7L198.3,415.2L198.5,420.1L198.7,443.4L198.8,418.2L198.9,410L199,463.2L199.2,414.6L199.3,419.2L199.5,440L199.7,411.1L199.9,417.6L200.2,420.1L200.4,435.6L200.5,417.8L200.6,416L200.6,424.7L200.8,414.9L201.1,422.4L201.2,419.6L201.3,440.7L201.4,451.6L201.5,411.5L201.6,416.6L201.7,417.5L201.7,419.5L201.9,428.1L202.1,415.5L202.3,421.7L202.5,445.3L202.7,415L202.8,422.9L202.9,418.3L203,467.6L203.1,444.5L203.2,415.4L203.3,414.3L203.5,417.3L203.9,418.8L204.1,434.4L204.3,415.7L204.7,421.8L204.8,422.8L204.8,443.4L204.9,421.1L205,454.3L205,416.4L205.1,444.5L205.2,415.6L205.2,417.1L205.3,414.4L205.6,422.4L205.8,444.2L206,410.1L206.4,418.5L206.6,451.9L206.8,413.5L207,416.9L207.2,417L207.4,452.7L207.4,423.7L207.6,414.8L207.6,464.1L207.7,419.7L207.8,414L207.9,444.6L208.1,413.9L208.2,419.5L208.4,434.3L208.5,415.9L208.8,416.8L208.8,420.1L209,458.8L209.1,419.4L209.2,413.1L209.3,443.7L209.5,409.7L209.8,418L210,444.9L210.2,413.2L210.4,419.7L210.6,416.6L210.6,433L210.8,417.6L210.8,415.7L210.9,418.2L211,481.9L211.1,422.9L211.2,411.5L211.3,417.1L211.3,415.9L211.5,442.1L211.6,410.1L212.3,421.2L212.3,416.4L212.5,426.6L212.7,417.1L212.7,410.8L212.8,421.5L212.9,423.3L213,469.4L213.1,415.2L213.2,410L213.4,418.2L213.6,424.7L213.7,416.6L213.8,416L213.9,425.6L214.1,416.2L214.1,409.5L214.8,422L214.9,420.5L215,457L215.1,423.4L215.1,418.7L215.2,414.9L215.2,409.1L215.3,430.8L215.5,414L215.9,415.9L216.1,416.4L216.3,429.6L216.5,413.2L216.6,417.5L216.8,427.4L217,414.3L217.2,416.7L217.3,416.8L217.4,482.8L217.5,431.6L217.6,410.1L217.6,415.7L217.7,413.7L217.8,420.7L218,443.9L218.2,414.4L218.8,418.1L219,416.5L219,442.9L219.2,445.5L219.2,415.5L219.4,411.4L219.4,415.5L219.7,417.6L219.8,421.5L219.9,452.4L220,448.1L220.1,409L220.2,413.2L220.6,418.8L220.8,431.4L221,412.1L221.2,415.3L221.2,416.5L221.4,424.2L221.6,408L221.8,416.7L222,432.7L222.2,414.4L222.9,415L224.7,414.8L226.5,414.5L228.3,414.3L230,414.1L231.8,413.8L233.6,413.6L235.3,413.3L237.1,413.1L238.9,412.9L240.7,412.7L242.4,412.4L244.2,412.2L246,412L247.7,411.8L249.5,411.7L251.3,411.5L253,411.3L254.8,411.1L256.6,411L258.4,410.9L260.1,410.7L260.7,407.5L260.8,405.9L260.9,383.4L261,402L261.1,411.9L261.1,407.9L261.2,421.3L261.3,384.4L261.5,426L261.9,406.9L261.9,410.6L262.1,386.7L262.2,409.2L262.3,414L262.4,390.5L262.6,411.8L262.6,408.9L262.8,383.2L263,425.4L263.1,406.2L263.3,395.6L263.5,414.4L263.6,405.9L263.7,410.5L263.8,388.8L264,419.1L264.1,408.8L264.2,405.9L264.3,398.6L264.4,365.1L264.4,413.9L264.6,410.9L264.7,410.1L264.9,361.6L265.1,413.6L265.2,409.4L265.2,410.1L265.4,398.2L265.4,347.6L265.4,410.4L265.5,407.2L265.6,412.8L265.6,415.2L265.7,387.2L265.9,418.6L265.9,407.2L266.1,368.4L266.3,410.6L266.4,406L266.6,379.7L266.8,409.2L266.8,421.6L267,396.8L267.2,410.4L267.2,419.4L267.4,410.1L267.5,408L267.6,399.7L267.7,329.8L267.8,410.8L267.9,408.9L267.9,419L268.1,396.7L268.3,410.4L268.4,406.9L268.6,361.5L268.6,407.4L268.8,421L268.8,361.4L269,410.3L269,409.4L269,411.5L269,406.4L269.2,352.1L269.2,367.9L269.4,420.5L269.4,417.1L269.7,405L269.9,391.7L270.1,419.9L270.1,410L270.3,367.1L270.4,405.7L270.5,413.3L270.6,377L270.7,406.2L270.7,410.3L270.8,413L270.9,395.9L271.1,421.8L271.1,410.2L271.3,410.1L271.3,363.8L271.5,344.9L271.5,410.4L271.6,407.7L271.7,411.9L271.8,376.9L272,416.3L272.1,408.9L272.3,361.9L272.5,410.2L272.5,411L272.6,405.5L272.7,409.7L272.8,353.8L272.9,407.3L272.9,363.9L273,417.3L273.1,400.7L273.1,411.3L273.3,415.7L273.6,406.5L273.7,407.4L273.8,374.5L273.8,406.3L273.9,391.4L274,411.2L274,328.1L274,413.9L274.2,416.1L274.2,409.8L274.3,410.2L274.4,389.2L274.6,414L274.7,406.5L274.9,379.5L275.1,408.7L275.1,416.7L275.2,373.7L275.4,407.9L275.4,410.4L275.5,403.3L275.6,363.5L275.7,331.6L275.8,414.2L275.9,420.7L276.1,410.2L276.1,407L276.2,407L276.3,387L276.4,354.1L276.5,415.5L276.6,426.8L276.8,405.6L277,378.6L277.2,422.4L277.2,405.2L277.4,370L277.6,425.7L277.7,405.9L277.8,410.2L277.9,385.9L278,406.1L278,413.7L278.1,409.3L278.2,365.6L278.3,326.3L278.3,406.7L278.3,412.1L278.5,413.3L278.5,394.9L278.7,423.4L279,409.5L279.2,358.9L279.3,407.3L279.4,413.7L279.5,408.9L279.5,328.1L279.6,410.2L279.7,361.8L279.7,411.1L279.9,410.6L279.9,405.4L280.1,363.9L280.3,420.9L280.3,405L280.5,385.8L280.6,409.8L280.7,420.9L280.8,407.2L280.8,349.3L281,348.5L281,414L281,406.6L281.2,420.3L281.2,386.5L281.4,410.3L281.4,419.1L281.7,405.2L281.9,348.7L282.1,420.7L282.2,405.2L282.4,352.2L282.4,408.3L282.4,408.6L282.6,410.9L282.6,373.2L282.6,352.1L282.8,405.2L282.8,421L282.8,412.9L283,369.3L283.1,410.3L283.2,423.5L283.4,406.7L283.6,407.6L283.6,398.9L283.8,390.6L283.8,427.8L284,417L284,407.2L284.1,405L284.2,391.7L284.3,342.3L284.4,413.3L284.5,419.9L284.8,407.1L284.9,406.9L284.9,410.4L285,370L285.1,375.6L285.2,412.2L285.3,414L285.5,409.4L285.7,410.1L285.7,379.6L285.9,393.4L285.9,411L286.1,413.5L286.3,410.1L286.5,356L286.5,407.1L286.7,414.6L286.7,410.5L286.7,408.4L286.7,364.7L286.9,340.5L286.9,415.4L287.1,421.8L287.1,407.8L287.3,350.9L287.5,410L287.5,419.8L287.6,370.8L287.8,413.6L287.9,405.6L288.1,374.5L288.3,414.8L288.4,406.7L288.4,410.6L288.5,406.1L288.6,328.9L288.7,394.5L288.8,413.4L288.9,420.2L289,407.4L289.1,406.1L289.1,377.2L289.3,369.9L289.3,413.7L289.5,420.7L289.8,407L289.9,408.6L290,350.3L290.1,408.3L290.1,352.8L290.2,412L290.2,410.7L290.3,353.3L290.3,416.5L290.5,420.5L290.8,407.5L290.9,406.3L290.9,409.8L291,374.7L291.1,334.3L291.1,364.3L291.2,420.7L291.3,419.1L291.3,427.9L291.5,407.5L291.7,362.9L291.8,409.3L291.9,411.5L292,382.6L292,410.8L292.2,412.1L292.2,405.6L292.4,363.4L292.6,410.9L292.6,406L292.6,410.1L292.8,346.7L292.8,380.6L293,406.4L293,422.5L293,414.8L293.2,388.2L293.4,413.9L293.8,410.9L293.8,408.9L293.9,392.6L294,407.8L294,405.9L294.1,412.1L294.2,359.3L294.2,325.4L294.4,418.1L294.4,423.1L294.5,408.3L294.7,366.7L294.9,420L294.9,405.8L295.1,377.8L295.3,417.9L295.3,410.5L295.5,411.1L295.5,395.2L295.7,406.4L295.7,415.3L295.9,394.8L296.1,426.6L296.3,408L296.4,404.7L296.5,365.1L296.6,344.1L296.7,410.1L296.7,415.9L296.8,416.3L296.9,370.8L297.1,422.5L297.1,408.1L297.3,360.2L297.3,411.2L297.4,409.7L297.5,418.6L297.6,405.5L297.6,393L297.8,352.1L297.8,412L298,407.3L298,422.2L298.1,394.3L298.2,406.1L298.3,413.4L298.4,351.2L298.6,417.8L298.7,408.3L298.8,407.3L298.9,336.9L299,409.8L299,382.9L299.1,411.4L299.1,411.7L299.2,367.9L299.2,414.1L299.4,418.4L299.6,407.7L299.8,353.2L299.9,409.4L300,417.5L300.1,363.3L300.3,412.3L300.4,410.9L300.4,408.6L300.6,378.5L300.6,336.1L300.7,413.1L300.8,413.7L300.8,411.6L301,406.8L301.2,375.8L301.3,408.6L301.4,412.1L301.5,364.3L301.6,410.8L301.6,411.1L301.7,417.4L301.8,358.2L301.8,348.5L302,418.8L302,416.9L302.1,406.7L302.3,363.1L302.4,419L302.6,411.7" fill="none" stroke="#525ebd" stroke-width="0.75" stroke-linejoin="round" stroke-opacity="0.93" clip-path="url(#cb)"/>
<path d="M37.1,445.9L37.5,445.9L38,445.9L38.4,445.8L38.9,445.7L39.3,445.7L39.8,445.6L40.2,445.6L40.6,445.5L41.1,445.4L41.5,445.3L42,445.1L42.4,444.9L42.9,444.6L43.3,444.2L43.7,443.8L44.2,443.3L44.6,442.8L45.1,442.3L45.5,441.8L46,441.3L46.4,440.8L46.8,440.3L47.3,439.8L47.7,439.3L48.2,438.8L48.6,438.3L49,437.8L49.5,437.3L49.9,436.7L50.4,436.1L50.8,435.6L51.3,435L51.7,434.4L52.1,433.7L52.6,433.1L53,432.5L53.5,431.9L53.9,431.3L54.4,430.6L54.8,430L55.2,429.4L55.7,428.8L56.1,428.2L56.6,427.5L57,426.9L57.5,426.3L57.9,425.7L58.3,425.1L58.8,424.4L59.2,423.8L59.7,423.2L60.1,422.5L60.6,421.8L61,421.1L61.4,420.4L61.9,419.7L62.3,419L62.8,418.3L63.2,417.5L63.7,416.7L64.1,415.9L64.5,415.1L65,414.1L65.4,413.2L65.9,412.2L66.3,411.1L66.7,410.1L67.2,409.1L67.6,408L68.1,407L68.5,406L69,404.9L69.4,403.9L69.8,402.8L70.3,401.8L70.7,400.7L71.2,399.7L71.6,398.7L72.1,397.8L72.5,396.9L72.9,396.2L73.4,395.6L73.8,394.8L74.3,394L74.7,394.6L75.2,395.3L75.6,393.8L76,393.1L76.5,393.6L76.9,393.5L77.4,393L77.8,392.3L78.3,393.1L78.7,393.8L79.1,393L79.6,392.6L80,393.5L80.5,391.7L80.9,392.4L81.3,391.4L81.8,391.5L82.2,391.6L82.7,390.2L83.1,391.4L83.6,391.3L84,390.5L84.4,390L84.9,390.3L85.3,390.8L85.8,389.6L86.2,389.5L86.7,388.4L87.1,389.7L87.5,389.3L88,389.7L88.4,390.1L88.9,389L89.3,388.3L89.8,389.4L90.2,389L90.6,389.2L91.1,387.4L91.5,388.6L92,387.7L92.4,388.5L92.9,387.8L93.3,388.1L93.7,389.1L94.2,387.5L94.6,387.1L95.1,388.7L95.5,387.5L96,387.6L96.4,387.9L96.8,387.3L97.3,388.3L97.7,386.9L98.2,386.2L98.6,387.7L99.1,386.9L99.5,385.9L99.9,386.6L100.4,387L100.8,387.2L101.3,386.4L101.7,386.5L102.1,386L102.6,387.3L103,385.6L103.5,386.5L103.9,385.7L104.4,386.5L104.8,386.9L105.2,386.3L105.7,386.5L106.1,386.1L106.6,385.3L107,385L107.5,385.5L107.9,385.9L108.3,385.7L108.8,385L109.2,384.5L109.7,385.4L110.1,385.2L110.6,385.5L111,384.8L111.4,384.2L111.9,386.6L112.3,384.5L112.8,384.9L113.2,385.9L113.7,384.1L114.1,384.3L114.5,383.9L115,385L115.4,382.6L115.9,383.8L116.3,384L116.8,382.7L117.2,383.2L117.6,383L118.1,382.7L118.5,384.7L119,382.2L119.4,383.4L119.8,382.9L120.3,382.4L120.7,383.3L121.2,382.6L121.6,382.2L122.1,382.6L122.5,382.2L122.9,383.4L123.4,383L123.8,382.9L124.3,381.8L124.7,379.6L125.2,381.7L125.6,381.9L126,381.7L126.5,381L126.9,381.2L127.4,382.3L127.8,381L128.3,381.7L128.7,381.3L129.1,381.9L129.6,382L130,382.1L130.5,382.2L130.9,382.4L131.4,382.5L131.8,382.7L132.2,382.9L132.7,383.1L133.1,383.3L133.6,383.5L134,383.7L134.4,383.9L134.9,384.1L135.3,384.4L135.8,384.6L136.2,384.9L136.7,385.3L137.1,385.6L137.5,386L138,386.4L138.4,386.7L138.9,387.1L139.3,387.5L139.8,387.8L140.2,388.2L140.6,388.6L141.1,389L141.5,389.3L142,389.7L142.4,390.1L142.9,390.5L143.3,390.9L143.7,391.4L144.2,391.9L144.6,392.4L145.1,392.9L145.5,393.4L146,393.9L146.4,394.4L146.8,394.9L147.3,395.4L147.7,396L148.2,396.5L148.6,397L149.1,397.5L149.5,398.1L149.9,398.7L150.4,399.4L150.8,400.1L151.3,400.9L151.7,401.7L152.2,402.5L152.6,403.3L153,404.1L153.5,404.9L153.9,405.7L154.4,406.5L154.8,407.4L155.2,408.2L155.7,409.1L156.1,410L156.6,410.9L157,411.9L157.5,412.9L157.9,413.8L158.3,414.8L158.8,415.8L159.2,416.8L159.7,417.7L160.1,418.7L160.6,419.7L161,420.6L161.4,421.6L161.9,422.5L162.3,423.5L162.8,424.4L163.2,425.3L163.7,426.3L164.1,427.2L164.5,428.1L165,429L165.4,429.8L165.9,430.7L166.3,431.5L166.8,432.3L167.2,433.1L167.6,433.8L168.1,434.5L168.5,435.2L169,435.8L169.4,436.4L169.8,436.9L170.3,437.8L170.7,438.2L171.2,438.2L171.6,438.3L172.1,439.2L172.5,438.7L172.9,440L173.4,439L173.8,439.4L174.3,440.9L174.7,439.9L175.2,440.4L175.6,439.7L176,440.8L176.5,440.3L176.9,440.3L177.4,442.4L177.8,442L178.3,440.7L178.7,441L179.1,440.3L179.6,440.9L180,441.9L180.5,441L180.9,441.8L181.4,441.5L181.8,441.7L182.2,441.3L182.7,442.5L183.1,442.3L183.6,443.1L184,440.3L184.5,442.4L184.9,442.4L185.3,442.6L185.8,442.3L186.2,442.3L186.7,441.6L187.1,442L187.5,441.9L188,442.6L188.4,442.3L188.9,441.5L189.3,442.4L189.8,442.2L190.2,443.8L190.6,442.2L191.1,442.4L191.5,441.8L192,444.4L192.4,442.7L192.9,442.9L193.3,442.8L193.7,443.3L194.2,442.8L194.6,442.5L195.1,443L195.5,443.2L196,443.2L196.4,443.4L196.8,443.2L197.3,443.7L197.7,444.6L198.2,442.5L198.6,444.5L199.1,443.5L199.5,444.3L199.9,443.7L200.4,444.2L200.8,443.6L201.3,444.2L201.7,444.5L202.2,443.5L202.6,442.9L203,443.6L203.5,443.8L203.9,444.6L204.4,444L204.8,443.7L205.2,444.4L205.7,443.5L206.1,444.1L206.6,443.9L207,444.5L207.5,444.5L207.9,444.1L208.3,444L208.8,444L209.2,444.9L209.7,444.8L210.1,444.3L210.6,445.5L211,443.7L211.4,444.2L211.9,444.4L212.3,444.9L212.8,443.9L213.2,444.6L213.7,443.2L214.1,444.2L214.5,445.4L215,444L215.4,444.9L215.9,444.9L216.3,444.7L216.8,444.7L217.2,444.4L217.6,444.1L218.1,444.3L218.5,445.1L219,445.5L219.4,445.2L219.9,444.5L220.3,444.2L220.7,443.6L221.2,445.6L221.6,444.7L222.1,444.9L222.5,445L222.9,444.8L223.4,444.8L223.8,444.7L224.3,444.7L224.7,444.6L225.2,444.5L225.6,444.4L226,444.3L226.5,444.1L226.9,444L227.4,443.9L227.8,443.8L228.3,443.6L228.7,443.5L229.1,443.4L229.6,443.2L230,443L230.5,442.8L230.9,442.6L231.4,442.4L231.8,442.1L232.2,441.9L232.7,441.6L233.1,441.4L233.6,441.1L234,440.9L234.5,440.6L234.9,440.3L235.3,440L235.8,439.6L236.2,439.2L236.7,438.7L237.1,438.2L237.6,437.7L238,437.2L238.4,436.7L238.9,436.1L239.3,435.6L239.8,435.1L240.2,434.6L240.7,434.1L241.1,433.5L241.5,433L242,432.5L242.4,432L242.9,431.4L243.3,430.9L243.7,430.3L244.2,429.6L244.6,428.9L245.1,428.1L245.5,427.3L246,426.4L246.4,425.6L246.8,424.8L247.3,424L247.7,423.3L248.2,422.5L248.6,421.8L249.1,421.2L249.5,420.5L249.9,419.8L250.4,419.1L250.8,418.4L251.3,417.7L251.7,417L252.2,416.3L252.6,415.7L253,415L253.5,414.3L253.9,413.6L254.4,412.9L254.8,412.2L255.3,411.5L255.7,410.8L256.1,410.1L256.6,409.3L257,408.4L257.5,407.4L257.9,406.4L258.4,405.3L258.8,404.1L259.2,402.9L259.7,401.7L260.1,400.6L260.6,399.5L261,398.6L261.4,397.7L261.9,397L262.3,396.3L262.8,395.8L263.2,394.5L263.7,395.5L264.1,394.2L264.5,394.6L265,393.5L265.4,393.5L265.9,392.7L266.3,393.3L266.8,393.6L267.2,392.6L267.6,392.4L268.1,393L268.5,392.3L269,392.8L269.4,391.5L269.9,391.6L270.3,391.2L270.7,389.4L271.2,390.8L271.6,390.4L272.1,390.1L272.5,390.5L273,390.6L273.4,389.5L273.8,389.3L274.3,391.7L274.7,389.8L275.2,389.8L275.6,389.8L276.1,388.5L276.5,389.5L276.9,388.5L277.4,389.3L277.8,389.1L278.3,388.2L278.7,389L279.1,388.5L279.6,389L280,388.7L280.5,387.6L280.9,387.6L281.4,388.6L281.8,388.5L282.2,386.1L282.7,388.1L283.1,388.2L283.6,387.2L284,388L284.5,387.7L284.9,386.9L285.3,386.7L285.8,387.5L286.2,386.4L286.7,387.3L287.1,387.4L287.6,387.2L288,387.3L288.4,386.7L288.9,386.8L289.3,387.5L289.8,386.8L290.2,387.2L290.7,387.2L291.1,386.9L291.5,386.1L292,386.5L292.4,385.9L292.9,385.6L293.3,386.6L293.8,386.9L294.2,387L294.6,386.3L295.1,385.8L295.5,385.3L296,387.1L296.4,385.7L296.8,385.5L297.3,384.6L297.7,386L298.2,386.1L298.6,387L299.1,386.5L299.5,386.6L299.9,386.5L300.4,386.4L300.8,386.8L301.3,385.8L301.7,385.5L302.2,385.2L302.6,385.7" fill="none" stroke="#e22f34" stroke-width="1.05" stroke-linejoin="round" stroke-opacity="0.5" clip-path="url(#cb)"/>
<rect x="159.3" y="317.3" width="98.1" height="37.8" fill="#fff" stroke="#666" stroke-width="0.8"/>
<path d="M162.3,323.6H182" stroke="#303030" stroke-width="0.8"/>
<text x="187.2" y="327.2" class="lg">Applied voltage</text>
<path d="M162.3,336.2H182" stroke="#e22f34" stroke-width="0.8"/>
<text x="187.2" y="339.8" class="lg">Gas voltage</text>
<path d="M162.3,348.8H182" stroke="#525ebd" stroke-width="0.8"/>
<text x="187.2" y="352.4" class="lg">Current</text>
<path d="M302.6,307.6L37.1,307.6L37.1,521L302.6,521" fill="none" stroke="#2e2e2e" stroke-width="1.1"/>
<path d="M302.6,307.1L302.6,521.5" fill="none" stroke="#3e479f" stroke-width="1.2"/>
<path d="M37.1,307.6h4M37.1,318.3h2.2M37.1,328.9h4M37.1,339.6h2.2M37.1,350.3h4M37.1,361h2.2M37.1,371.6h4M37.1,382.3h2.2M37.1,393h4M37.1,403.6h2.2M37.1,414.3h4M37.1,425h2.2M37.1,435.6h4M37.1,446.3h2.2M37.1,457h4M37.1,467.6h2.2M37.1,478.3h4M37.1,489h2.2M37.1,499.7h4M37.1,510.3h2.2M37.1,521h4M37.1,521v-4M54.8,521v-2.2M72.5,521v-4M90.2,521v-2.2M107.9,521v-4M125.6,521v-2.2M143.3,521v-4M161,521v-2.2M178.7,521v-4M196.4,521v-2.2M214.1,521v-4M231.8,521v-2.2M249.5,521v-4M267.2,521v-2.2M284.9,521v-4M302.6,521v-2.2" stroke="#2e2e2e" stroke-width="1" fill="none"/>
<path d="M302.6,307.6h-4M302.6,316.5h-2.2M302.6,325.4h-4M302.6,334.3h-2.2M302.6,343.2h-4M302.6,352.1h-2.2M302.6,361h-4M302.6,369.8h-2.2M302.6,378.7h-4M302.6,387.6h-2.2M302.6,396.5h-4M302.6,405.4h-2.2M302.6,414.3h-4M302.6,423.2h-2.2M302.6,432.1h-4M302.6,441h-2.2M302.6,449.9h-4M302.6,458.8h-2.2M302.6,467.6h-4M302.6,476.5h-2.2M302.6,485.4h-4M302.6,494.3h-2.2M302.6,503.2h-4M302.6,512.1h-2.2M302.6,521h-4" stroke="#3e479f" stroke-width="1" fill="none"/>
<text x="32.9" y="311.9" text-anchor="end" class="tk">10</text>
<text x="32.9" y="333.2" text-anchor="end" class="tk">8</text>
<text x="32.9" y="354.6" text-anchor="end" class="tk">6</text>
<text x="32.9" y="375.9" text-anchor="end" class="tk">4</text>
<text x="32.9" y="397.3" text-anchor="end" class="tk">2</text>
<text x="32.9" y="418.6" text-anchor="end" class="tk">0</text>
<text x="32.9" y="439.9" text-anchor="end" class="tk">-2</text>
<text x="32.9" y="461.3" text-anchor="end" class="tk">-4</text>
<text x="32.9" y="482.6" text-anchor="end" class="tk">-6</text>
<text x="32.9" y="504" text-anchor="end" class="tk">-8</text>
<text x="32.9" y="525.3" text-anchor="end" class="tk">-10</text>
<text x="37.1" y="534.8" text-anchor="middle" class="tk">0</text>
<text x="72.5" y="534.8" text-anchor="middle" class="tk">20</text>
<text x="107.9" y="534.8" text-anchor="middle" class="tk">40</text>
<text x="143.3" y="534.8" text-anchor="middle" class="tk">60</text>
<text x="178.7" y="534.8" text-anchor="middle" class="tk">80</text>
<text x="214.1" y="534.8" text-anchor="middle" class="tk">100</text>
<text x="249.5" y="534.8" text-anchor="middle" class="tk">120</text>
<text x="284.9" y="534.8" text-anchor="middle" class="tk">140</text>
<text x="307" y="311.4" class="tk bl">120</text>
<text x="307" y="329.2" class="tk bl">100</text>
<text x="307" y="347" class="tk bl">80</text>
<text x="307" y="364.8" class="tk bl">60</text>
<text x="307" y="382.5" class="tk bl">40</text>
<text x="307" y="400.3" class="tk bl">20</text>
<text x="307" y="418.1" class="tk bl">0</text>
<text x="307" y="435.9" class="tk bl">-20</text>
<text x="307" y="453.7" class="tk bl">-40</text>
<text x="307" y="471.4" class="tk bl">-60</text>
<text x="307" y="489.2" class="tk bl">-80</text>
<text x="307" y="507" class="tk bl">-100</text>
<text x="307" y="524.8" class="tk bl">-120</text>
<text transform="translate(9.7,410.4) rotate(-90)" text-anchor="middle" class="tt">Voltage (kV)</text>
<text transform="translate(345,413.2) rotate(-90)" text-anchor="middle" class="tt bl">Current (mA)</text>
<text x="170.1" y="551" text-anchor="middle" class="tt">Time (us)</text>
<text x="174" y="584.5" text-anchor="middle" class="cap">(b)</text>
<clipPath id="cc"><rect x="38.9" y="618.3" width="269.7" height="216.7"/></clipPath>
<path d="M38.9,817.4L40.7,816.7L42.5,815.6L44.3,814.2L46.1,812.5L47.9,810.4L49.7,808L51.5,805.3L53.3,802.2L55.1,798.9L56.9,795.3L58.7,791.4L60.5,787.2L62.3,782.8L64.1,778.3L65.9,773.5L67.7,768.6L69.5,763.5L71.3,758.3L73.1,753.1L74.9,747.8L76.7,742.4L78.5,737.1L80.3,731.7L82.1,726.4L83.9,721.1L85.6,715.9L87.4,710.8L89.2,705.7L91,700.8L92.8,696L94.6,691.3L96.4,686.8L98.2,682.4L100,678.1L101.8,674L103.6,670.1L105.4,666.3L107.2,662.7L109,659.3L110.8,656.1L112.6,653L114.4,650.2L116.2,647.6L118,645.2L119.8,643L121.6,641.1L123.4,639.5L125.2,638.1L127,637L128.8,636.1L130.6,635.6L132.4,635.4L134.2,635.5L136,635.9L137.8,636.7L139.6,637.8L141.4,639.2L143.2,641L145,643.1L146.8,645.6L148.6,648.3L150.4,651.4L152.2,654.8L154,658.4L155.8,662.3L157.6,666.5L159.4,670.9L161.2,675.5L163,680.3L164.8,685.2L166.6,690.3L168.4,695.5L170.2,700.8L172,706.1L173.8,711.4L175.5,716.8L177.3,722.1L179.1,727.4L180.9,732.7L182.7,737.9L184.5,743L186.3,748.1L188.1,753L189.9,757.8L191.7,762.4L193.5,767L195.3,771.4L197.1,775.6L198.9,779.7L200.7,783.6L202.5,787.4L204.3,790.9L206.1,794.3L207.9,797.5L209.7,800.6L211.5,803.4L213.3,806L215.1,808.3L216.9,810.5L218.7,812.3L220.5,814L222.3,815.3L224.1,816.4L225.9,817.2L227.7,817.7L229.5,817.9L231.3,817.8L233.1,817.3L234.9,816.5L236.7,815.4L238.5,813.9L240.3,812.1L242.1,810L243.9,807.5L245.7,804.7L247.5,801.6L249.3,798.2L251.1,794.5L252.9,790.6L254.7,786.4L256.5,781.9L258.3,777.3L260.1,772.5L261.9,767.6L263.7,762.5L265.4,757.3L267.2,752L269,746.7L270.8,741.3L272.6,736L274.4,730.6L276.2,725.3L278,720.1L279.8,714.9L281.6,709.8L283.4,704.7L285.2,699.8L287,695L288.8,690.4L290.6,685.9L292.4,681.5L294.2,677.3L296,673.2L297.8,669.3L299.6,665.6L301.4,662L303.2,658.6L305,655.4L306.8,652.5L308.6,649.7" fill="none" stroke="#303030" stroke-width="1.0" stroke-linejoin="round" clip-path="url(#cc)"/>
<path d="M229.5,726.6L230.4,726L231.2,725.4L232.1,724.8L232.9,724.1L233.8,723.5L234.7,722.9L235.5,722.3L236.4,721.6L237.3,721L238.1,720.4L239,719.8L239.8,719.1L240.7,718.5L241.6,717.9L242.4,717.3L243.3,716.7L244.2,716L245,715.4L245.9,714.8L246.7,714.2L247.6,713.6L248.5,712.9L249.3,712.3L250.2,711.7L251.1,711L251.9,710.4L252.8,709.8L253.7,709.2" fill="none" stroke="#525ebd" stroke-width="1.3" stroke-linejoin="round" clip-path="url(#cc)"/>
<path d="M128.8,718.5L129.7,719.4L130.5,720.3L131.4,721.2L132.3,722.1L133.1,723L134,723.8L134.8,724.7L135.7,725.6L136.6,726.5L137.4,727.2L138.3,727.8L139.2,728.3L140,728.8L140.9,729.4L141.7,729.9L142.6,730.4L143.5,730.9L144.3,731.5L145.2,732L146.1,732.5L146.9,733L147.8,733.5L148.6,734L149.5,734.5L150.4,734.9L151.2,735.4L152.1,735.9L153,736.3L153.8,736.8L154.7,737.3L155.6,737.8L156.4,738.2L157.3,739.7" fill="none" stroke="#525ebd" stroke-width="1.3" stroke-linejoin="round" clip-path="url(#cc)"/>
<path d="M38.9,722L39.8,721.4L40.6,720.9L41.5,720.4L42.4,719.9L43.2,719.4L44.1,718.9L44.9,718.4L45.8,717.9L46.7,717.4L47.5,716.9L48.4,716.4L49.3,715.9L50.1,715.3L51,714.8L51.8,714.3L52.7,713.8L53.6,713.3L54.4,712.8L55.3,712.3L56.2,711.8L57,711.3L57.9,710.8L58.7,710.2" fill="none" stroke="#525ebd" stroke-width="1.3" stroke-linejoin="round" clip-path="url(#cc)"/>
<path d="M38.9,722L39,721.5L39,721.9L39.1,721.5L39.2,721.8L39.3,721.4L39.3,721.9L39.4,721.4L39.5,721.8L39.5,721.3L39.6,721.7L39.7,721.3L39.8,721.6L39.8,721.2L39.9,721.6L40,721.1L40.1,721.4L40.1,721.1L40.2,721.4L40.3,721L40.3,721.3L40.4,720.9L40.5,721.1L40.6,720.9L40.6,721.1L40.7,720.8L40.8,721.1L40.8,720.7L40.9,720.9L41,720.7L41.1,720.9L41.1,720.6L41.2,720.9L41.3,720.6L41.3,720.8L41.4,720.4L41.5,720.7L41.6,720.4L41.6,720.6L41.7,720.2L41.8,720.4L41.8,720.1L41.9,720.3L42,720L42.1,720.2L42.1,719.9L42.2,720.1L42.3,719.7L42.4,720.1L42.4,719.7L42.5,720L42.6,719.7L42.6,720L42.7,719.6L42.8,719.9L42.9,719.4L42.9,719.9L43,719.4L43.1,719.7L43.1,719.3L43.2,719.7L43.3,719.3L43.4,719.5L43.4,719.2L43.5,719.4L43.6,719.1L43.6,719.3L43.7,718.9L43.8,719.3L43.9,718.9L43.9,719.1L44,718.8L44.1,719.1L44.2,718.7L44.2,719.1L44.3,718.7L44.4,718.9L44.4,718.4L44.5,718.9L44.6,718.4L44.7,718.7L44.7,718.3L44.8,718.7L44.9,718.2L44.9,718.6L45,718.1L45.1,718.5L45.2,718L45.2,718.4L45.3,718L45.4,718.4L45.4,717.9L45.5,718.2L45.6,717.7L45.7,718.2L45.7,717.7L45.8,718L45.9,717.7L45.9,717.9L46,717.6L46.1,717.8L46.2,717.5L46.2,717.8L46.3,717.4L46.4,717.7L46.5,717.4L46.5,717.6L46.6,717.3L46.7,717.6L46.7,717.2L46.8,717.5L46.9,717.2L47,717.5L47,717.1L47.1,717.4L47.2,717L47.2,717.2L47.3,716.9L47.4,717.3L47.5,716.7L47.5,717.1L47.6,716.7L47.7,717L47.7,716.6L47.8,716.9L47.9,716.5L48,716.8L48,716.4L48.1,716.8L48.2,716.4L48.2,716.7L48.3,716.2L48.4,716.5L48.5,716.1L48.5,716.5L48.6,716.1L48.7,716.4L48.8,715.9L48.8,716.4L48.9,715.9L49,716.1L49,715.7L49.1,716.1L49.2,715.7L49.3,716L49.3,715.6L49.4,715.9L49.5,715.5L49.5,715.8L49.6,715.5L49.7,715.8L49.8,715.4L49.8,715.7L49.9,715.3L50,715.7L50,715.2L50.1,715.6L50.2,715.2L50.3,715.6L50.3,715.1L50.4,715.5L50.5,715L50.6,715.4L50.6,714.9L50.7,715.3L50.8,714.8L50.8,715.1L50.9,714.8L51,714.9L51.1,714.7L51.1,714.9L51.2,714.6L51.3,714.8L51.3,714.5L51.4,714.7L51.5,714.4L51.6,714.7L51.6,714.3L51.7,714.6L51.8,714.1L51.8,714.5L51.9,714L52,714.3L52.1,714L52.1,714.3L52.2,713.9L52.3,714.2L52.3,713.7L52.4,714.2L52.5,713.7L52.6,714.1L52.6,713.5L52.7,713.9L52.8,713.5L52.9,713.8L52.9,713.5L53,713.9L53.1,713.3L53.1,713.7L53.2,713.3L53.3,713.7L53.4,713.3L53.4,713.6L53.5,713.1L53.6,713.4L53.6,713.1L53.7,713.5L53.8,713L53.9,713.3L53.9,713L54,713.3L54.1,712.9L54.1,713.2L54.2,712.8L54.3,713.1L54.4,712.6L54.4,713L54.5,712.7L54.6,712.9L54.7,712.5L54.7,712.8L54.8,712.3L54.9,712.8L54.9,712.4L55,712.7L55.1,712.2L55.2,712.5L55.2,712L55.3,712.4L55.4,712L55.4,712.5L55.5,712L55.6,712.3L55.7,711.9L55.7,712.1L55.8,711.8L55.9,712.1L55.9,711.8L56,712L56.1,711.6L56.2,712L56.2,711.5L56.3,711.8L56.4,711.4L56.4,711.7L56.5,711.4L56.6,711.7L56.7,711.2L56.7,711.7L56.8,711.2L56.9,711.6L57,711.1L57,711.5L57.1,710.9L57.2,711.4L57.2,710.8L57.3,711.2L57.4,710.8L57.5,711.2L57.5,710.7L57.6,711.1L57.7,710.5L57.7,711L57.8,710.5L57.9,710.9L58,710.5L58,710.8L58.1,710.5L58.2,710.8L58.2,710.4L58.3,710.6L58.4,710.3L58.5,710.5L58.5,710.2L58.6,710.4L58.7,710.1L58.7,710.3L58.8,709.6L58.9,710.3L59,709.1L59,710L59.1,708.9L59.2,710.1L59.3,708.3L59.3,709.9L59.4,708.1L59.5,710L59.5,707.3L59.6,709.7L59.7,706.1L59.8,709.1L59.8,706.5L59.9,710.6L60,705.8L60,708.9L60.1,705.9L60.2,709.1L60.3,703.8L60.3,710L60.4,705.9L60.5,709.8L60.5,703.9L60.6,696.9L60.7,703.5L60.8,711.4L60.8,704.7L60.9,711.3L61,703.3L61.1,700.8L61.1,703.9L61.2,709.9L61.3,700.9L61.3,709.1L61.4,701.8L61.5,706.6L61.6,699.3L61.6,706L61.7,702.3L61.8,707.5L61.8,698.7L61.9,708L62,717.6L62.1,696.4L62.1,700.7L62.2,710.2L62.3,700.5L62.3,712.4L62.4,698.7L62.5,711.3L62.6,698.6L62.6,710.7L62.7,697.6L62.8,711.7L62.8,699.3L62.9,707.5L63,698.7L63.1,710.7L63.1,695.2L63.2,708.3L63.3,684.6L63.4,710.3L63.4,695.2L63.5,710L63.6,696.4L63.6,709.1L63.7,698.4L63.8,708.2L63.9,698.9L63.9,707.6L64,688.6L64.1,687.9L64.1,693.5L64.2,708L64.3,692.5L64.4,705.1L64.4,693.4L64.5,706.6L64.6,692.8L64.6,708.7L64.7,690.9L64.8,709.7L64.9,713.3L64.9,709.7L65,693.9L65.1,708.5L65.2,693.1L65.2,709.6L65.3,681.8L65.4,709L65.4,690.9L65.5,708.9L65.6,695.5L65.7,708.3L65.7,683.6L65.8,704.7L65.9,689.1L65.9,705.2L66,694.2L66.1,707L66.2,678.4L66.2,706.3L66.3,691.5L66.4,708.3L66.4,692L66.5,704.4L66.6,693.5L66.7,703.3L66.7,689.1L66.8,700.9L66.9,690.7L66.9,703.6L67,683.2L67.1,699.9L67.2,691.1L67.2,698.1L67.3,687.3L67.4,701.4L67.5,690.1L67.5,699.7L67.6,687.2L67.7,705.8L67.7,689.8L67.8,703.5L67.9,685L68,703.1L68,689.3L68.1,704.6L68.2,686.9L68.2,704.4L68.3,683.2L68.4,676.6L68.5,688.4L68.5,701.8L68.6,681.9L68.7,708.3L68.7,686.5L68.8,707.7L68.9,688.2L69,703.7L69,678L69.1,704.6L69.2,671.3L69.3,703.5L69.3,688.8L69.4,702L69.5,688.2L69.5,703.8L69.6,691.7L69.7,702.5L69.8,690.4L69.8,700.1L69.9,689L70,702.4L70,685.1L70.1,698.1L70.2,682.4L70.3,699.5L70.3,682.7L70.4,698L70.5,682.2L70.5,700.4L70.6,684.5L70.7,695.4L70.8,681.6L70.8,696.7L70.9,685.3L71,695.8L71,672.9L71.1,674.8L71.2,683.4L71.3,699.4L71.3,686L71.4,694.4L71.5,686.7L71.6,694.5L71.6,685.9L71.7,693.7L71.8,684.4L71.8,695.9L71.9,684.6L72,697L72.1,684.5L72.1,694.2L72.2,687.5L72.3,695.2L72.3,683.3L72.4,698.7L72.5,684L72.6,696.5L72.6,683.7L72.7,696.4L72.8,686.5L72.8,695.4L72.9,686.8L73,701.9L73.1,682.4L73.1,697.5L73.2,680.3L73.3,698.4L73.3,684.9L73.4,698.8L73.5,682.4L73.6,697.7L73.6,706.1L73.7,693.1L73.8,677.9L73.9,693.7L73.9,683.4L74,694.4L74.1,677.4L74.1,693.9L74.2,682.5L74.3,697L74.4,677.3L74.4,696.7L74.5,675.6L74.6,698L74.6,679.9L74.7,668.9L74.8,700.5L74.9,694.1L74.9,683.5L75,696.4L75.1,680.7L75.1,693.2L75.2,673.4L75.3,692.4L75.4,683.5L75.4,694.2L75.5,680.3L75.6,672.5L75.7,682.3L75.7,690.5L75.8,678.1L75.9,701.3L75.9,677.5L76,694.2L76.1,704.7L76.2,691L76.2,662.5L76.3,691.5L76.4,676.6L76.4,697.9L76.5,677.5L76.6,693.1L76.7,676.5L76.7,696.7L76.8,672.4L76.9,696.7L76.9,677.3L77,694.3L77.1,682.5L77.2,667.3L77.2,678L77.3,697.7L77.4,684.7L77.4,701L77.5,682.9L77.6,695.9L77.7,686.8L77.7,695.7L77.8,683.6L77.9,697.1L78,681.1L78,699.3L78.1,682.6L78.2,695.8L78.2,680.8L78.3,698.3L78.4,682.1L78.5,696.7L78.5,667L78.6,694.5L78.7,680.2L78.7,693.4L78.8,679.9L78.9,694L79,681.6L79,698.9L79.1,676.2L79.2,697.7L79.2,660.9L79.3,699.9L79.4,676.3L79.5,693.7L79.5,674.7L79.6,698.1L79.7,670.3L79.8,697.5L79.8,675L79.9,692.6L80,676.9L80,690.2L80.1,671.1L80.2,686.9L80.3,676L80.3,688.7L80.4,675.4L80.5,658.7L80.5,676.1L80.6,690.1L80.7,675.5L80.8,695.6L80.8,676.6L80.9,687.6L81,674.2L81,696.1L81.1,668.5L81.2,690.1L81.3,676.5L81.3,694.7L81.4,650.2L81.5,696.3L81.5,673.5L81.6,653L81.7,675.9L81.8,695.2L81.8,669.3L81.9,695.7L82,698.7L82.1,691.8L82.1,677.4L82.2,688.6L82.3,661.7L82.3,696.2L82.4,676.8L82.5,692.5L82.6,674.5L82.6,695L82.7,677.8L82.8,688.4L82.8,676.6L82.9,691.7L83,674.3L83.1,694L83.1,673.5L83.2,692.1L83.3,675.9L83.3,684.8L83.4,671.1L83.5,687.7L83.6,675.9L83.6,689L83.7,671.9L83.8,687L83.9,657L83.9,692.1L84,671.7L84.1,687.3L84.1,672.7L84.2,693.9L84.3,672.1L84.4,691.4L84.4,675.5L84.5,692L84.6,669.7L84.6,695L84.7,675.9L84.8,690.3L84.9,675.7L84.9,658.6L85,675.6L85.1,689.8L85.1,675.7L85.2,659.7L85.3,679.2L85.4,691.2L85.4,676.4L85.5,694L85.6,678.4L85.6,687.2L85.7,676.5L85.8,692.9L85.9,676.7L85.9,687.7L86,672.9L86.1,686.9L86.2,672.8L86.2,690.5L86.3,674.6L86.4,693.5L86.4,674.8L86.5,691.1L86.6,675.5L86.7,694.1L86.7,671.6L86.8,693.3L86.9,678.7L86.9,696.2L87,676.4L87.1,691.2L87.2,674.3L87.2,688.9L87.3,666.5L87.4,692.4L87.4,680.2L87.5,689.2L87.6,680.4L87.7,691.4L87.7,677.2L87.8,688.8L87.9,675.7L87.9,687.4L88,669.1L88.1,689.2L88.2,667.8L88.2,686.7L88.3,667.8L88.4,690.9L88.5,674.3L88.5,692.6L88.6,676.1L88.7,690.4L88.7,675.1L88.8,692.4L88.9,677.1L89,692.7L89,646.5L89.1,689.2L89.2,676.3L89.2,692.1L89.3,677.5L89.4,688.8L89.5,678.9L89.5,692.7L89.6,675.8L89.7,693.4L89.7,676.6L89.8,692.4L89.9,677L90,656.2L90,676.5L90.1,692.3L90.2,668.7L90.3,688.8L90.3,672L90.4,692.1L90.5,669.8L90.5,685.7L90.6,667.4L90.7,689.1L90.8,665.8L90.8,691L90.9,665.6L91,686.5L91,668.1L91.1,687.5L91.2,672L91.3,689.1L91.3,675.6L91.4,686.4L91.5,678.4L91.5,689.9L91.6,679.5L91.7,689.1L91.8,678.5L91.8,690.2L91.9,679.2L92,691.6L92,664.1L92.1,687.8L92.2,674.3L92.3,692.7L92.3,675.4L92.4,693.4L92.5,678.6L92.6,658L92.6,678.6L92.7,689.3L92.8,672L92.8,688.3L92.9,668.9L93,691.3L93.1,668.8L93.1,692.4L93.2,672.2L93.3,654.6L93.3,667.6L93.4,692.3L93.5,673.3L93.6,691.8L93.6,680.8L93.7,694.9L93.8,681.8L93.8,692.7L93.9,677.5L94,697L94.1,681.8L94.1,694.2L94.2,680.2L94.3,692.9L94.4,681.4L94.4,692.2L94.5,703.6L94.6,691.4L94.6,676.8L94.7,695.1L94.8,675.6L94.9,694.6L94.9,681.1L95,694.2L95.1,675.2L95.1,695.7L95.2,662.4L95.3,693.2L95.4,680.8L95.4,700L95.5,677.5L95.6,699.6L95.6,676.8L95.7,693.9L95.8,675.6L95.9,694.6L95.9,680.3L96,696.6L96.1,673.5L96.1,701.9L96.2,676.1L96.3,695.3L96.4,668.6L96.4,689.4L96.5,674.5L96.6,689.9L96.7,681L96.7,662.1L96.8,680.5L96.9,672L96.9,674L97,696.2L97.1,680.8L97.2,692.9L97.2,675.7L97.3,695.5L97.4,678.3L97.4,692.8L97.5,681L97.6,693.2L97.7,679.6L97.7,692.9L97.8,676.7L97.9,692.1L97.9,680.8L98,694.5L98.1,679.2L98.2,694.4L98.2,682.1L98.3,695L98.4,675.6L98.4,699.1L98.5,675.4L98.6,694.7L98.7,676.3L98.7,695.3L98.8,677.7L98.9,701L99,677.6L99,635L99.1,678.4L99.2,698.5L99.2,677.8L99.3,693.2L99.4,681L99.5,699.7L99.5,678.8L99.6,700.6L99.7,682.4L99.7,694.1L99.8,678.2L99.9,699.1L100,679L100,701.1L100.1,682.7L100.2,702.4L100.2,677.4L100.3,702.3L100.4,678.7L100.5,696.7L100.5,678.9L100.6,701.5L100.7,679L100.8,700.2L100.8,681.2L100.9,695.1L101,685.8L101,696.6L101.1,682L101.2,695.9L101.3,676.1L101.3,679.2L101.4,687.1L101.5,696.6L101.5,686.1L101.6,696.1L101.7,687L101.8,699.9L101.8,682.8L101.9,700.3L102,683.1L102,699.3L102.1,687.4L102.2,702.1L102.3,688.6L102.3,697.2L102.4,687.5L102.5,702L102.5,688.8L102.6,699.4L102.7,683.2L102.8,699.7L102.8,689.4L102.9,699.6L103,690.9L103.1,701.5L103.1,686.2L103.2,703L103.3,686L103.3,698.6L103.4,684L103.5,700L103.6,688.5L103.6,702.2L103.7,682.2L103.8,668.8L103.8,686.6L103.9,703.5L104,687L104.1,701.8L104.1,685.6L104.2,700.4L104.3,688.8L104.3,699.2L104.4,689.4L104.5,700.5L104.6,688.8L104.6,702.9L104.7,686.4L104.8,700.6L104.9,691.2L104.9,708L105,687.1L105.1,680.1L105.1,686.5L105.2,702.1L105.3,682.7L105.4,704.1L105.4,684.8L105.5,636L105.6,682.7L105.6,704.4L105.7,682.5L105.8,697.9L105.9,680.7L105.9,695.6L106,679.2L106.1,700.7L106.1,680.6L106.2,697.7L106.3,685.2L106.4,701.6L106.4,689.1L106.5,702.5L106.6,689L106.6,700.1L106.7,690.4L106.8,701.2L106.9,689.6L106.9,705L107,691.2L107.1,700.7L107.2,691.8L107.2,702.7L107.3,689.5L107.4,703.1L107.4,689.9L107.5,703.2L107.6,689.6L107.7,704.1L107.7,689.5L107.8,705.4L107.9,689.7L107.9,704.7L108,693.4L108.1,705.6L108.2,689L108.2,703.8L108.3,693.1L108.4,702.3L108.4,692.4L108.5,706.7L108.6,690.7L108.7,705.3L108.7,687.3L108.8,707L108.9,689.1L109,701.1L109,692.4L109.1,705.4L109.2,691.1L109.2,705.1L109.3,687.7L109.4,705.7L109.5,686.8L109.5,703.4L109.6,691.1L109.7,706.6L109.7,691.2L109.8,685.9L109.9,691.4L110,704L110,686.7L110.1,702.1L110.2,694.6L110.2,704.2L110.3,690.4L110.4,705.6L110.5,684.4L110.5,703.1L110.6,690.2L110.7,702.9L110.7,693.6L110.8,702.6L110.9,694.5L111,702.3L111,689.7L111.1,704.1L111.2,695L111.3,703.7L111.3,693.8L111.4,701.7L111.5,695.2L111.5,688.1L111.6,693.5L111.7,706.2L111.8,695.2L111.8,680.3L111.9,691.1L112,704.2L112,691.2L112.1,705.5L112.2,692.9L112.3,704.4L112.3,691L112.4,702.1L112.5,691.6L112.5,705L112.6,695L112.7,702.5L112.8,692.3L112.8,705L112.9,692.3L113,703.7L113,694.3L113.1,701.9L113.2,691.8L113.3,704L113.3,687.3L113.4,703.5L113.5,690.1L113.6,702.8L113.6,692.6L113.7,688.4L113.8,689.2L113.8,706.5L113.9,697.2L114,709.3L114.1,696.1L114.1,713.2L114.2,698.6L114.3,711.2L114.3,699.3L114.4,709.3L114.5,698.7L114.6,711.6L114.6,683.6L114.7,710.7L114.8,695.5L114.8,708.8L114.9,694.2L115,707.3L115.1,689.5L115.1,711.1L115.2,696.6L115.3,709.6L115.4,693.7L115.4,711.7L115.5,693.3L115.6,712.1L115.6,693.6L115.7,711.1L115.8,697.9L115.9,713.3L115.9,698.4L116,708.1L116.1,696.6L116.1,706.5L116.2,697.1L116.3,713L116.4,696.9L116.4,711.1L116.5,692.6L116.6,707.1L116.6,694.4L116.7,712.1L116.8,693.9L116.9,708.6L116.9,696.9L117,712.4L117.1,697.8L117.1,712.9L117.2,697.4L117.3,694.4L117.4,701.8L117.4,712.9L117.5,693L117.6,716L117.7,701L117.7,716.6L117.8,702.3L117.9,716.8L117.9,699.4L118,711.2L118.1,700.5L118.2,715.4L118.2,697.1L118.3,713.5L118.4,697.6L118.4,715.5L118.5,696.4L118.6,714.7L118.7,698.8L118.7,714.2L118.8,700.7L118.9,715L118.9,701.4L119,712.5L119.1,700.4L119.2,710.7L119.2,698.8L119.3,709.1L119.4,699.9L119.5,710.6L119.5,697.2L119.6,714.2L119.7,698.8L119.7,713.2L119.8,699.6L119.9,710.1L120,697.6L120,711.5L120.1,700.7L120.2,714.7L120.2,722.3L120.3,711.1L120.4,699.4L120.5,713.4L120.5,702.5L120.6,712.1L120.7,700.2L120.7,711.8L120.8,703.5L120.9,712.6L121,702.4L121,711.7L121.1,706.4L121.2,714.1L121.2,731L121.3,715L121.4,702.8L121.5,715.6L121.5,708.1L121.6,714.3L121.7,706.1L121.8,712.6L121.8,707.1L121.9,712.9L122,705.6L122,714.6L122.1,707.6L122.2,713.4L122.3,705.5L122.3,714.7L122.4,705.9L122.5,715.3L122.5,705.6L122.6,713.1L122.7,704.8L122.8,701.6L122.8,703.2L122.9,714.9L123,707.7L123,720.1L123.1,706.8L123.2,716.6L123.3,708.4L123.3,716.7L123.4,707.8L123.5,716.8L123.5,706.7L123.6,702.7L123.7,709.4L123.8,718.1L123.8,705.6L123.9,719.1L124,708.7L124.1,716.5L124.1,707L124.2,719.1L124.3,708.2L124.3,717.4L124.4,726.4L124.5,718.6L124.6,709.9L124.6,716.7L124.7,708.5L124.8,718.6L124.8,709.9L124.9,701L125,707.3L125.1,715.9L125.1,708.7L125.2,719.3L125.3,707.4L125.3,716.5L125.4,701.9L125.5,718L125.6,708.2L125.6,716.1L125.7,710L125.8,718.2L125.9,708.2L125.9,720.3L126,710.6L126.1,701L126.1,710L126.2,720.9L126.3,708.8L126.4,720.8L126.4,710L126.5,719.6L126.6,729.7L126.6,717.8L126.7,712.4L126.8,718.9L126.9,712.7L126.9,718.7L127,711.9L127.1,717.6L127.1,710.9L127.2,708.5L127.3,713.5L127.4,720.1L127.4,713.8L127.5,719.5L127.6,713.6L127.6,718.7L127.7,710.8L127.8,719.5L127.9,709.9L127.9,717.9L128,713.8L128.1,720.6L128.2,715.1L128.2,720.1L128.3,713.7L128.4,719.1L128.4,716.1L128.5,720.3L128.6,717.3L128.7,721.3L128.7,717L128.8,721.5L128.9,718.3L128.9,721.8L129,718L129.1,721.5L129.2,718L129.2,727.5L129.3,718.1L129.4,721.5L129.4,719.4L129.5,722.1L129.6,718.3L129.7,723.3L129.7,717.3L129.8,726.9L129.9,717.5L130,721.9L130,717.1L130.1,721.3L130.2,716.8L130.2,723.2L130.3,715.8L130.4,721.5L130.5,718.2L130.5,721.5L130.6,716.9L130.7,723.2L130.7,717.1L130.8,723.5L130.9,718.8L131,723.2L131,719.5L131.1,722.4L131.2,719.6L131.2,724.1L131.3,719.9L131.4,724.8L131.5,718.8L131.5,723.2L131.6,718.8L131.7,723.8L131.7,718.5L131.8,723.9L131.9,719.7L132,723L132,719.4L132.1,724.1L132.2,719.1L132.3,724.2L132.3,719.5L132.4,723.3L132.5,719L132.5,723.6L132.6,719.5L132.7,724.3L132.8,719.8L132.8,724.5L132.9,719.7L133,725L133,719.9L133.1,725L133.2,720.6L133.3,725.7L133.3,721.6L133.4,725.1L133.5,721.6L133.5,724.9L133.6,721.9L133.7,725.3L133.8,721.3L133.8,726.1L133.9,721.7L134,725.2L134.1,721.6L134.1,725.6L134.2,721.9L134.3,725.1L134.3,721.8L134.4,725.7L134.5,722.2L134.6,725.9L134.6,722.2L134.7,726.4L134.8,722.9L134.8,726.9L134.9,723.3L135,727.4L135.1,723.9L135.1,727.7L135.2,723.4L135.3,727L135.3,724.7L135.4,727.5L135.5,724.2L135.6,726.6L135.6,724.5L135.7,727.4L135.8,725.1L135.8,726.6L135.9,725.3L136,726.9L136.1,725.4L136.1,726.9L136.2,725.4L136.3,726.8L136.4,725.7L136.4,727.4L136.5,725.8L136.6,727L136.6,725.7L136.7,727L136.8,725.5L136.9,727.3L136.9,725.7L137,719.6L137.1,725.8L137.1,727.3L137.2,726L137.3,727.6L137.4,726L137.4,727.7L137.5,726.6L137.6,726.6L137.6,726.2L137.7,728.1L137.8,725.9L137.9,728.6L137.9,726.2L138,728.7L138.1,726.6L138.1,728.2L138.2,726.5L138.3,728.7L138.4,726.6L138.4,725.1L138.5,726.8L138.6,729L138.7,726.6L138.7,728.6L138.8,726.7L138.9,729.4L138.9,727L139,729.5L139.1,727.6L139.2,729.7L139.2,728.9L139.3,729.6L139.4,728.2L139.4,729.9L139.5,727.8L139.6,730L139.7,728.2L139.7,730.1L139.8,727.9L139.9,729.4L139.9,727.8L140,729.7L140.1,723.2L140.2,729.8L140.2,727.8L140.3,730L140.4,728.2L140.5,730.5L140.5,728.1L140.6,730.1L140.7,728.4L140.7,730.4L140.8,729L140.9,730.8L141,728.4L141,730.5L141.1,728.7L141.2,730.8L141.2,729.1L141.3,730.2L141.4,729.2L141.5,730.7L141.5,728.8L141.6,728L141.7,729.1L141.7,730.4L141.8,734.5L141.9,730.4L142,729.1L142,730.7L142.1,728.9L142.2,731L142.2,729.3L142.3,730.8L142.4,729L142.5,731.2L142.5,728.9L142.6,731.3L142.7,729.3L142.8,731.1L142.8,729.8L142.9,731.3L143,729.3L143,731.7L143.1,730.1L143.2,731.7L143.3,730.3L143.3,731.6L143.4,730.9L143.5,732L143.5,730.4L143.6,731.7L143.7,730.6L143.8,731.7L143.8,730.5L143.9,732L144,730.4L144,732.4L144.1,730.7L144.2,732.1L144.3,731L144.3,732.5L144.4,731.2L144.5,732.5L144.6,730.8L144.6,732.3L144.7,731.1L144.8,732.2L144.8,731.1L144.9,732.3L145,731L145.1,732.2L145.1,731.4L145.2,732.4L145.3,731.2L145.3,732.4L145.4,731.5L145.5,732.6L145.6,731.4L145.6,732.4L145.7,731.5L145.8,732.5L145.8,732.9L145.9,732.6L146,732L146.1,732.8L146.1,732L146.2,733.1L146.3,732.1L146.3,733L146.4,735.1L146.5,733.3L146.6,732.4L146.6,733.6L146.7,732.7L146.8,733.7L146.9,732.6L146.9,733.6L147,736.3L147.1,733.4L147.1,731.3L147.2,733.8L147.3,732.7L147.4,733.7L147.4,732.9L147.5,733.9L147.6,733.1L147.6,733.7L147.7,731.3L147.8,734L147.9,732.7L147.9,733.9L148,740.6L148.1,733.9L148.1,733L148.2,734.4L148.3,733L148.4,734.4L148.4,733.3L148.5,734.3L148.6,733.2L148.6,734.2L148.7,740.5L148.8,734.5L148.9,733.4L148.9,734.4L149,730.3L149.1,734.4L149.2,733.9L149.2,734.5L149.3,733.8L149.4,734.8L149.4,733.7L149.5,734.8L149.6,734.1L149.7,735.1L149.7,734.1L149.8,734L149.9,734.2L149.9,735.3L150,734.3L150.1,735.1L150.2,734.5L150.2,735.4L150.3,734.5L150.4,735.7L150.4,739.1L150.5,735.8L150.6,734.6L150.7,735.6L150.7,734.6L150.8,735.6L150.9,734.7L151,735.8L151,735L151.1,736L151.2,735.1L151.2,736.1L151.3,734.8L151.4,735.9L151.5,735.3L151.5,736L151.6,735.3L151.7,736L151.7,735.4L151.8,736L151.9,735.4L152,736.2L152,735.6L152.1,736.1L152.2,735.7L152.2,736.4L152.3,735.8L152.4,736.2L152.5,735.8L152.5,736.3L152.6,735.7L152.7,736.6L152.7,735.6L152.8,736.4L152.9,735.6L153,736.7L153,735.7L153.1,736.9L153.2,736L153.3,737L153.3,736.2L153.4,740.8L153.5,736.2L153.5,737.1L153.6,736.1L153.7,737.2L153.8,736.4L153.8,737.1L153.9,736.2L154,737.5L154,736.5L154.1,737.4L154.2,736.6L154.3,737.4L154.3,736.6L154.4,737.5L154.5,736.9L154.5,737.7L154.6,736.8L154.7,737.7L154.8,736.8L154.8,738L154.9,737L155,738.1L155.1,737.3L155.1,738L155.2,737.2L155.3,738.2L155.3,737.5L155.4,738.2L155.5,737.6L155.6,738.2L155.6,737.6L155.7,738.3L155.8,737.7L155.8,738.3L155.9,737.8L156,738.3L156.1,737.7L156.1,738.4L156.2,737.8L156.3,738.7L156.3,737.8L156.4,738.6L156.5,738.1L156.6,738.6L156.6,737.9L156.7,738.9L156.8,738L156.8,738.9L156.9,737.9L157,738.8L157.1,738L157.1,739.6L157.2,738.1L157.3,740.9L157.4,738.3L157.4,744.7L157.5,738.2L157.6,742.7L157.6,738.3L157.7,743L157.8,739.9L157.9,744.2L157.9,740.2L158,747.2L158.1,749.2L158.1,745.2L158.2,740.8L158.3,745.8L158.4,741.8L158.4,747.2L158.5,739.7L158.6,750.4L158.6,740.6L158.7,749L158.8,740.2L158.9,749.3L158.9,740.8L159,750.9L159.1,743.4L159.2,752.1L159.2,739.5L159.3,749.6L159.4,738.9L159.4,750.8L159.5,741.5L159.6,749.7L159.7,742.8L159.7,749.8L159.8,739.9L159.9,753.1L159.9,764.7L160,753.9L160.1,742L160.2,752.1L160.2,738.5L160.3,755.4L160.4,741.7L160.4,753.6L160.5,739.9L160.6,753.4L160.7,739.5L160.7,755.4L160.8,744.1L160.9,758.9L160.9,742L161,768.6L161.1,745.7L161.2,757.7L161.2,748.7L161.3,758.1L161.4,778.1L161.5,763.1L161.5,745.4L161.6,759.7L161.7,743.7L161.7,761L161.8,775.4L161.9,758.2L162,747.4L162,777.5L162.1,745.9L162.2,764L162.2,787.6L162.3,762.2L162.4,789.5L162.5,763.5L162.5,748.7L162.6,764.1L162.7,747.3L162.7,779.1L162.8,790.7L162.9,768.2L163,783.7L163,786.1L163.1,750.8L163.2,765L163.2,754.4L163.3,772.2L163.4,752.8L163.5,767.9L163.5,754.9L163.6,765L163.7,753.3L163.8,768.2L163.8,747.4L163.9,767.9L164,750.3L164,767.4L164.1,745.1L164.2,766.6L164.3,740.4L164.3,768.3L164.4,743.3L164.5,771.6L164.5,742.2L164.6,771.4L164.7,791.3L164.8,801.8L164.8,801.1L164.9,765.3L165,740.8L165,786.5L165.1,741.6L165.2,766.4L165.3,748.6L165.3,790.8L165.4,743.7L165.5,773.4L165.6,745.1L165.6,768.2L165.7,746.5L165.8,765.7L165.8,742.7L165.9,771.2L166,749.2L166.1,773.8L166.1,743.7L166.2,765.6L166.3,747L166.3,767.8L166.4,754.5L166.5,769.1L166.6,756.2L166.6,775L166.7,799.8L166.8,770.2L166.8,754.1L166.9,772.4L167,757.7L167.1,805.6L167.1,750.6L167.2,789.9L167.3,751L167.3,769L167.4,749.9L167.5,775L167.6,749.4L167.6,775L167.7,755.9L167.8,777.3L167.9,749.2L167.9,777.3L168,745.6L168.1,773.7L168.1,744.5L168.2,768.9L168.3,801.3L168.4,769.9L168.4,752.4L168.5,776L168.6,752.4L168.6,775.6L168.7,746.8L168.8,773L168.9,745L168.9,773.7L169,748.1L169.1,766.6L169.1,747.8L169.2,793.3L169.3,752.7L169.4,769.9L169.4,744.8L169.5,772.1L169.6,796.5L169.7,773.9L169.7,754.8L169.8,770.6L169.9,741.9L169.9,779.1L170,819.3L170.1,770.8L170.2,753.1L170.2,772.9L170.3,751.6L170.4,781L170.4,818.5L170.5,776.1L170.6,752.6L170.7,772.8L170.7,749.2L170.8,805.9L170.9,752.6L170.9,773.1L171,807.9L171.1,768.5L171.2,794.6L171.2,769.7L171.3,741.1L171.4,769.5L171.4,744.4L171.5,806L171.6,742.7L171.7,815.6L171.7,734.3L171.8,774.2L171.9,796.9L172,771.5L172,747.3L172.1,771.3L172.2,735.4L172.2,771.4L172.3,745.5L172.4,764.3L172.5,743.2L172.5,770.9L172.6,733.3L172.7,771.7L172.7,745L172.8,723L172.9,741.9L173,774.7L173,736.6L173.1,776L173.2,747L173.2,777.5L173.3,747.8L173.4,768.2L173.5,733.9L173.5,767.8L173.6,741.8L173.7,774.5L173.8,746.3L173.8,765.2L173.9,741.3L174,768.6L174,740.8L174.1,767.2L174.2,787.6L174.3,776.4L174.3,737.3L174.4,770.2L174.5,745.3L174.5,771.4L174.6,745.9L174.7,804.2L174.8,746.4L174.8,783L174.9,743L175,774.8L175,751.8L175.1,772.1L175.2,751.7L175.3,778.2L175.3,742.9L175.4,773.2L175.5,743.3L175.5,766.9L175.6,749.8L175.7,768.3L175.8,749.9L175.8,774L175.9,792.5L176,767.2L176.1,747.1L176.1,792.3L176.2,741.9L176.3,770.4L176.3,747.7L176.4,770.4L176.5,749.8L176.6,772.2L176.6,743.7L176.7,768.3L176.8,743.1L176.8,775.7L176.9,746.2L177,795.4L177.1,740.7L177.1,770L177.2,746.1L177.3,774.4L177.3,746.9L177.4,770.8L177.5,749.9L177.6,775.9L177.6,749.2L177.7,765.2L177.8,745.2L177.8,767.1L177.9,742.9L178,765.1L178.1,745.5L178.1,766.5L178.2,747.6L178.3,776.3L178.4,746.2L178.4,775.4L178.5,747.4L178.6,772.4L178.6,799L178.7,774.9L178.8,812.1L178.9,803.3L178.9,748.5L179,786.2L179.1,751.1L179.1,775.8L179.2,746.3L179.3,782.5L179.4,752.2L179.4,771.2L179.5,755.8L179.6,776.3L179.6,749.5L179.7,769.8L179.8,750.3L179.9,777.1L179.9,745.2L180,778.1L180.1,746.8L180.2,774.1L180.2,752.3L180.3,777.8L180.4,740.5L180.4,772.3L180.5,745.1L180.6,776.9L180.7,738.9L180.7,765.9L180.8,744.2L180.9,777L180.9,740.1L181,770.4L181.1,740.7L181.2,776.5L181.2,809L181.3,737.1L181.4,746.2L181.4,777.1L181.5,742.5L181.6,798.5L181.7,742.3L181.7,810.5L181.8,744.4L181.9,811.7L181.9,746.3L182,774.5L182.1,741.4L182.2,779.4L182.2,754.3L182.3,776.8L182.4,752.7L182.5,774.4L182.5,752.1L182.6,769.8L182.7,756.9L182.7,813.6L182.8,751.9L182.9,770.2L183,749.1L183,775.4L183.1,747.4L183.2,774.8L183.2,798.2L183.3,776.9L183.4,750L183.5,776.5L183.5,753.5L183.6,775.6L183.7,742L183.7,782.8L183.8,753.4L183.9,775.7L184,751.3L184,771.9L184.1,804.4L184.2,812.3L184.3,757.8L184.3,772.5L184.4,806.8L184.5,769.7L184.5,752.7L184.6,768.5L184.7,788.3L184.8,773.5L184.8,750.4L184.9,767.2L185,744.2L185,773.9L185.1,746.2L185.2,727.8L185.3,744.6L185.3,764.1L185.4,806.6L185.5,765.6L185.5,736.5L185.6,774.8L185.7,738.7L185.8,790.1L185.8,741.1L185.9,772.4L186,750.3L186,768.6L186.1,750.8L186.2,802L186.3,792.9L186.3,766.4L186.4,743.2L186.5,773.5L186.6,747.7L186.6,772.6L186.7,742.3L186.8,771.5L186.8,741.9L186.9,778.4L187,744.8L187.1,777.3L187.1,746.5L187.2,805.6L187.3,744.2L187.3,770.8L187.4,746.8L187.5,775.4L187.6,748L187.6,782.7L187.7,749.6L187.8,780.2L187.8,756.3L187.9,775.1L188,755.8L188.1,774.6L188.1,750.3L188.2,776.1L188.3,747.2L188.3,778.5L188.4,740.7L188.5,778.4L188.6,752.7L188.6,780.2L188.7,759L188.8,778.3L188.9,756L188.9,796.6L189,754.1L189.1,779.5L189.1,758.5L189.2,774.3L189.3,758.1L189.4,775.4L189.4,755.3L189.5,775.3L189.6,808.2L189.6,812.2L189.7,754.7L189.8,778.5L189.9,746.9L189.9,773.2L190,747.6L190.1,767.8L190.1,746.8L190.2,776.3L190.3,746L190.4,774.2L190.4,748.9L190.5,773L190.6,740.9L190.7,768.5L190.7,742.6L190.8,772.4L190.9,798.1L190.9,769.6L191,743.9L191.1,792.1L191.2,745.9L191.2,766.9L191.3,744.3L191.4,809.6L191.4,744.5L191.5,777.9L191.6,811.4L191.7,768.8L191.7,752.5L191.8,776.1L191.9,750.4L191.9,770.4L192,753.7L192.1,777.1L192.2,755.6L192.2,775.3L192.3,756L192.4,776.9L192.4,798.4L192.5,769.7L192.6,744.2L192.7,774.1L192.7,753.9L192.8,792.2L192.9,809.5L193,767L193,795.8L193.1,773.6L193.2,743.7L193.2,796L193.3,747L193.4,766.7L193.5,751L193.5,773.8L193.6,746L193.7,767.6L193.7,754.7L193.8,777.5L193.9,752.3L194,774.9L194,757L194.1,796.8L194.2,752.8L194.2,784.3L194.3,755.9L194.4,781.9L194.5,762.5L194.5,779.2L194.6,809.9L194.7,820.2L194.8,759.2L194.8,781L194.9,752.8L195,774.8L195,755.2L195.1,791L195.2,752.7L195.3,775.1L195.3,756.4L195.4,770.7L195.5,749.1L195.5,774.1L195.6,753L195.7,774L195.8,750L195.8,771.3L195.9,752L196,772.1L196,794.6L196.1,766.2L196.2,753.5L196.3,805.2L196.3,744.6L196.4,773.6L196.5,746.2L196.5,769.8L196.6,747.1L196.7,765.3L196.8,752L196.8,766.9L196.9,744.6L197,770.3L197.1,808.7L197.1,778L197.2,746.8L197.3,793.3L197.3,744.2L197.4,773.8L197.5,756L197.6,791.1L197.6,797.8L197.7,777.4L197.8,744.7L197.8,771.9L197.9,750.5L198,774.4L198.1,795L198.1,766.8L198.2,746.8L198.3,794.7L198.3,747L198.4,765L198.5,741.7L198.6,771.5L198.6,738.7L198.7,772.9L198.8,812.4L198.9,767L198.9,744.8L199,810L199.1,750.3L199.1,775.6L199.2,750.6L199.3,767.2L199.4,748.7L199.4,769.9L199.5,748.3L199.6,774.4L199.6,743.3L199.7,767.2L199.8,747.8L199.9,736.4L199.9,751.1L200,768.6L200.1,800.3L200.1,770.9L200.2,812L200.3,766.3L200.4,804.3L200.4,802.3L200.5,810.1L200.6,810.1L200.6,738.5L200.7,769.9L200.8,807.8L200.9,803L200.9,746.4L201,766.8L201.1,746.4L201.2,775.6L201.2,718.9L201.3,767.9L201.4,740.3L201.4,776.4L201.5,735.4L201.6,809.3L201.7,748.6L201.7,770.7L201.8,748.4L201.9,772.1L201.9,739.9L202,743.4L202.1,801L202.2,778.6L202.2,754.3L202.3,797.3L202.4,758.6L202.4,777L202.5,753.6L202.6,792.7L202.7,752.9L202.7,777.3L202.8,748.8L202.9,768.9L202.9,750.7L203,767.3L203.1,750.9L203.2,787L203.2,747L203.3,773.1L203.4,751.4L203.5,768.8L203.5,743.2L203.6,764.2L203.7,726.6L203.7,760.9L203.8,744.2L203.9,765.3L204,744.3L204,763.3L204.1,746.5L204.2,770.2L204.2,744L204.3,766.1L204.4,802.3L204.5,770.3L204.5,752.3L204.6,768.8L204.7,753.9L204.7,774.9L204.8,751.4L204.9,773.7L205,756.3L205,769.7L205.1,750.2L205.2,786.4L205.3,750.8L205.3,769.8L205.4,749.1L205.5,764.7L205.5,747.8L205.6,768.2L205.7,795.6L205.8,765.2L205.8,749.6L205.9,789.3L206,753.5L206,765.1L206.1,796.2L206.2,765.6L206.3,751.1L206.3,760.4L206.4,752.7L206.5,760.6L206.5,751L206.6,765L206.7,785.4L206.8,763.7L206.8,753.2L206.9,766.9L207,752.8L207,763.1L207.1,752.3L207.2,796.8L207.3,753L207.3,764.3L207.4,751.7L207.5,790.2L207.6,750.4L207.6,762.8L207.7,750.3L207.8,759L207.8,749.4L207.9,758.8L208,748.5L208.1,762L208.1,748.3L208.2,761.7L208.3,778.5L208.3,778L208.4,746.6L208.5,759.3L208.6,748.5L208.6,762.6L208.7,745.1L208.8,765.4L208.8,748.5L208.9,761.9L209,741L209.1,758.8L209.1,745.5L209.2,790.8L209.3,744.3L209.4,761.4L209.4,790.1L209.5,757L209.6,740.3L209.6,756.3L209.7,737.3L209.8,788.3L209.9,740.5L209.9,764.2L210,736.7L210.1,765.1L210.1,743L210.2,776L210.3,739.4L210.4,757L210.4,736.3L210.5,766.9L210.6,742.3L210.6,777.7L210.7,745.9L210.8,793.9L210.9,743.3L210.9,768L211,745.3L211.1,766.1L211.1,744.8L211.2,761.5L211.3,742.4L211.4,768L211.4,798L211.5,763.4L211.6,751L211.7,792.2L211.7,778L211.8,760L211.9,748.9L211.9,765.3L212,750.5L212.1,760.2L212.2,752.5L212.2,758.4L212.3,792.1L212.4,758.5L212.4,786L212.5,758.7L212.6,743.8L212.7,758.8L212.7,744.4L212.8,754.1L212.9,742.2L212.9,759.7L213,746.6L213.1,775.9L213.2,745.5L213.2,784.8L213.3,742.3L213.4,771.3L213.4,746.8L213.5,761.9L213.6,748.4L213.7,779.4L213.7,746.4L213.8,761.7L213.9,741.3L214,763.3L214,743.9L214.1,759.1L214.2,741.8L214.2,755.3L214.3,745.6L214.4,759.2L214.5,738.3L214.5,776.5L214.6,770.8L214.7,757.2L214.7,738.9L214.8,758.9L214.9,739.4L215,755.7L215,741.4L215.1,736.3L215.2,742.7L215.2,758.8L215.3,747.4L215.4,765.1L215.5,740.4L215.5,764.6L215.6,744.5L215.7,757.3L215.8,746.3L215.8,761.6L215.9,749.9L216,760.8L216,745.3L216.1,762.2L216.2,747.2L216.3,759.3L216.3,745.4L216.4,758.5L216.5,746L216.5,756.8L216.6,779.9L216.7,760.6L216.8,744.2L216.8,754.9L216.9,742.7L217,755.8L217,768.5L217.1,756.4L217.2,742L217.3,757.7L217.3,741.6L217.4,757.5L217.5,747.4L217.5,757.4L217.6,748.2L217.7,756.4L217.8,749.1L217.8,777.8L217.9,746.6L218,757.1L218.1,744L218.1,735.7L218.2,743.4L218.3,754.4L218.3,739.9L218.4,734.3L218.5,739.3L218.6,751.7L218.6,742.9L218.7,755.3L218.8,735.2L218.8,750.8L218.9,762.9L219,750.5L219.1,741.8L219.1,748.8L219.2,739.1L219.3,753L219.3,738.2L219.4,749.4L219.5,733.8L219.6,753.9L219.6,735.9L219.7,750.4L219.8,739.1L219.9,755L219.9,739L220,754.3L220.1,733.7L220.1,755.6L220.2,740.4L220.3,758.4L220.4,729.7L220.4,752.7L220.5,739.2L220.6,749.4L220.6,781.1L220.7,755.5L220.8,730.4L220.9,768.6L220.9,733L221,750.3L221.1,777.2L221.1,752.6L221.2,732L221.3,748.2L221.4,762.5L221.4,721.2L221.5,740.7L221.6,752.6L221.6,740.4L221.7,762.6L221.8,743.2L221.9,751.6L221.9,738.4L222,746.4L222.1,739.1L222.2,747.5L222.2,737.4L222.3,757.8L222.4,719.7L222.4,746.4L222.5,734L222.6,742.1L222.7,730.4L222.7,742.7L222.8,756.1L222.9,742.5L222.9,733.3L223,743.3L223.1,732.3L223.2,743.4L223.2,733.5L223.3,720.3L223.4,734.8L223.4,765.2L223.5,730.5L223.6,747.2L223.7,731.5L223.7,746.7L223.8,729.7L223.9,743.8L224,729.9L224,748.1L224.1,736.3L224.2,748.9L224.2,732.5L224.3,746.9L224.4,762.3L224.5,746L224.5,734.1L224.6,743.1L224.7,733.5L224.7,744.1L224.8,730.8L224.9,745.2L225,729.7L225,743.2L225.1,758L225.2,743.7L225.2,731.2L225.3,739.4L225.4,715L225.5,740.7L225.5,730.1L225.6,739.8L225.7,747.8L225.7,740L225.8,733.3L225.9,740.8L226,731.2L226,740.5L226.1,731.6L226.2,741.2L226.3,756.1L226.3,742L226.4,731.6L226.5,754.3L226.5,748.9L226.6,748.8L226.7,748.4L226.8,739.5L226.8,748.7L226.9,738.3L227,753.8L227,737.7L227.1,748.3L227.2,738.8L227.3,753.1L227.3,740.8L227.4,730L227.5,740.3L227.5,728.5L227.6,736.7L227.7,766.4L227.8,750.6L227.8,730.6L227.9,738.7L228,728.7L228,747L228.1,731.8L228.2,737.3L228.3,730.7L228.3,736.2L228.4,729.9L228.5,736.1L228.6,731.2L228.6,735.9L228.7,728.8L228.8,735.7L228.8,741.4L228.9,732.9L229,728L229.1,731.6L229.1,728.3L229.2,730.2L229.3,726.9L229.3,728.4L229.4,726.8L229.5,726.7L229.6,726.5L229.6,726.6L229.7,726.3L229.8,726.5L229.8,726.2L229.9,726.5L230,726.1L230.1,726.3L230.1,726L230.2,726.2L230.3,725.9L230.4,726.3L230.4,725.8L230.5,726.1L230.6,725.8L230.6,726.1L230.7,725.7L230.8,726L230.9,725.6L230.9,725.8L231,725.5L231.1,725.9L231.1,725.2L231.2,725.6L231.3,725L231.4,725.5L231.4,725L231.5,725.5L231.6,724.9L231.6,725.3L231.7,724.7L231.8,725.2L231.9,724.6L231.9,725.2L232,724.5L232.1,725L232.1,724.5L232.2,724.9L232.3,724.4L232.4,724.7L232.4,724.3L232.5,724.6L232.6,724.2L232.7,724.5L232.7,724.1L232.8,724.4L232.9,723.9L232.9,724.3L233,723.8L233.1,724.1L233.2,723.6L233.2,724.1L233.3,723.6L233.4,724L233.4,723.6L233.5,723.9L233.6,723.3L233.7,723.9L233.7,723.4L233.8,723.7L233.9,723.1L233.9,723.8L234,723.2L234.1,723.5L234.2,723L234.2,723.4L234.3,723L234.4,723.2L234.5,722.9L234.5,723.2L234.6,722.8L234.7,723.1L234.7,722.6L234.8,722.9L234.9,722.5L235,722.8L235,722.5L235.1,722.7L235.2,722.3L235.2,722.6L235.3,722.2L235.4,722.6L235.5,722.2L235.5,722.4L235.6,722L235.7,722.3L235.7,721.9L235.8,722.2L235.9,721.8L236,722.2L236,721.7L236.1,722.1L236.2,721.6L236.2,722L236.3,721.6L236.4,721.9L236.5,721.5L236.5,721.8L236.6,721.3L236.7,721.6L236.8,721.3L236.8,721.4L236.9,721.2L237,721.3L237,721.1L237.1,721.3L237.2,721L237.3,721.1L237.3,720.8L237.4,721.1L237.5,720.7L237.5,721L237.6,720.7L237.7,720.8L237.8,720.6L237.8,720.7L237.9,720.4L238,720.6L238,720.3L238.1,720.6L238.2,720.1L238.3,720.5L238.3,720.1L238.4,720.4L238.5,720L238.5,720.2L238.6,719.8L238.7,720.1L238.8,719.6L238.8,720L238.9,719.7L239,720L239.1,719.5L239.1,719.8L239.2,719.4L239.3,719.8L239.3,719.4L239.4,719.6L239.5,719.2L239.6,719.5L239.6,719.1L239.7,719.4L239.8,719L239.8,719.3L239.9,719L240,719.3L240.1,718.8L240.1,719L240.2,718.7L240.3,719L240.3,718.6L240.4,718.9L240.5,718.4L240.6,718.8L240.6,718.3L240.7,718.7L240.8,718.3L240.9,718.6L240.9,718.1L241,718.5L241.1,718L241.1,718.4L241.2,718L241.3,718.2L241.4,717.8L241.4,718.1L241.5,717.8L241.6,718.1L241.6,717.7L241.7,717.9L241.8,717.6L241.9,717.9L241.9,717.5L242,717.7L242.1,717.5L242.1,717.6L242.2,717.2L242.3,717.6L242.4,717.2L242.4,717.4L242.5,717.1L242.6,717.4L242.6,716.9L242.7,717.2L242.8,716.8L242.9,717.1L242.9,716.7L243,717L243.1,716.7L243.2,716.9L243.2,716.4L243.3,716.8L243.4,716.3L243.4,716.7L243.5,716.3L243.6,716.6L243.7,716.1L243.7,716.5L243.8,716L243.9,716.4L243.9,716L244,716.2L244.1,715.9L244.2,716.1L244.2,715.7L244.3,716.1L244.4,715.5L244.4,716L244.5,715.6L244.6,715.9L244.7,715.5L244.7,715.8L244.8,715.4L244.9,715.7L245,715.4L245,715.7L245.1,715.3L245.2,715.5L245.2,715.1L245.3,715.5L245.4,715L245.5,715.4L245.5,714.9L245.6,715.3L245.7,714.8L245.7,715L245.8,714.6L245.9,715.1L246,714.6L246,715L246.1,714.5L246.2,714.7L246.2,714.4L246.3,714.6L246.4,714.2L246.5,714.5L246.5,714.1L246.6,714.6L246.7,714.2L246.7,714.4L246.8,714.1L246.9,714.3L247,713.8L247,714.2L247.1,713.8L247.2,714L247.3,713.7L247.3,713.9L247.4,713.5L247.5,713.8L247.5,713.4L247.6,713.6L247.7,713.3L247.8,713.5L247.8,713.1L247.9,713.4L248,713L248,713.4L248.1,713L248.2,713.3L248.3,712.8L248.3,713.1L248.4,712.7L248.5,713.1L248.5,712.5L248.6,712.9L248.7,712.4L248.8,712.8L248.8,712.4L248.9,712.7L249,712.3L249.1,712.6L249.1,712.2L249.2,712.5L249.3,712.1L249.3,712.4L249.4,712L249.5,712.2L249.6,711.8L249.6,712.1L249.7,711.8L249.8,712.2L249.8,711.7L249.9,711.9L250,711.6L250.1,711.9L250.1,711.5L250.2,711.7L250.3,711.3L250.3,711.8L250.4,711.2L250.5,711.5L250.6,711.1L250.6,711.6L250.7,710.9L250.8,711.5L250.8,710.9L250.9,711.4L251,710.7L251.1,711.1L251.1,710.7L251.2,711.1L251.3,710.7L251.4,711L251.4,710.5L251.5,710.9L251.6,710.5L251.6,710.8L251.7,710.4L251.8,710.7L251.9,710.4L251.9,710.6L252,710.2L252.1,710.4L252.1,710.2L252.2,710.3L252.3,709.9L252.4,710.3L252.4,709.8L252.5,710.2L252.6,709.7L252.6,710L252.7,709.7L252.8,710L252.9,709.6L252.9,709.8L253,709.4L253.1,709.7L253.1,709.3L253.2,709.6L253.3,709.2L253.4,709.6L253.4,709.2L253.5,709.4L253.6,709L253.7,709.4L253.7,708.8L253.8,709.3L253.9,708.7L253.9,709L254,708.3L254.1,709.1L254.2,707.8L254.2,708.8L254.3,707L254.4,709L254.4,706.8L254.5,708.7L254.6,705.6L254.7,709.6L254.7,704.5L254.8,709.2L254.9,703.5L254.9,719.7L255,705.2L255.1,710.7L255.2,703.9L255.2,708L255.3,703.9L255.4,719.1L255.5,702.1L255.5,709.1L255.6,700.6L255.7,697L255.7,699.2L255.8,709.7L255.9,697.3L256,691.8L256,699L256.1,707.2L256.2,696.5L256.2,709.3L256.3,694.2L256.4,707.6L256.5,694.8L256.5,707.4L256.6,694.4L256.7,690L256.7,694.9L256.8,706.4L256.9,694L257,707.4L257,690.2L257.1,708.6L257.2,690.6L257.2,704.1L257.3,691L257.4,708.6L257.5,689.1L257.5,705.6L257.6,690.2L257.7,703.8L257.8,690.5L257.8,708.8L257.9,687.5L258,704.6L258,691.7L258.1,705.4L258.2,688.8L258.3,701.8L258.3,690.3L258.4,707.7L258.5,693.3L258.5,706.5L258.6,690.7L258.7,706.4L258.8,688.8L258.8,703.2L258.9,689.4L259,705.3L259,690.9L259.1,700.3L259.2,690.5L259.3,703.8L259.3,690.4L259.4,701.1L259.5,692.6L259.6,703.1L259.6,690.1L259.7,700.2L259.8,693L259.8,685.4L259.9,692.2L260,686.3L260.1,692.2L260.1,700.1L260.2,688.7L260.3,700.2L260.3,685.8L260.4,698L260.5,685.5L260.6,698.3L260.6,684L260.7,704.1L260.8,688.2L260.8,703.1L260.9,682.9L261,699L261.1,681.8L261.1,676L261.2,685.1L261.3,697.7L261.3,681.9L261.4,700.5L261.5,686L261.6,704.2L261.6,684L261.7,702.3L261.8,688.7L261.9,702.5L261.9,688.8L262,701.6L262.1,684.5L262.1,703L262.2,686L262.3,702.3L262.4,688.6L262.4,680.1L262.5,686.8L262.6,703.5L262.6,687.8L262.7,702.7L262.8,688.3L262.9,698.4L262.9,683.9L263,699.4L263.1,688.5L263.1,700.2L263.2,683.1L263.3,669.3L263.4,684.6L263.4,697L263.5,684.3L263.6,675.3L263.7,682.2L263.7,696.2L263.8,678.2L263.9,701L263.9,684.4L264,699.5L264.1,685.4L264.2,700.1L264.2,685.4L264.3,698.5L264.4,686.5L264.4,704.8L264.5,691.2L264.6,703.9L264.7,687.4L264.7,706.3L264.8,675.1L264.9,670.2L264.9,687.1L265,703.4L265.1,682.5L265.2,702.4L265.2,683L265.3,699.1L265.4,680L265.4,702.5L265.5,682.9L265.6,701.3L265.7,679.8L265.7,704L265.8,682.9L265.9,698.5L266,680L266,693.7L266.1,681.7L266.2,696L266.2,681.4L266.3,696.5L266.4,679.7L266.5,697.1L266.5,681.6L266.6,673L266.7,678.9L266.7,673.2L266.8,678.4L266.9,699.6L267,674.5L267,694.8L267.1,682.3L267.2,699L267.2,677.6L267.3,693.7L267.4,678.9L267.5,696.5L267.5,662.2L267.6,701.1L267.7,674.9L267.7,696.6L267.8,677.2L267.9,697.1L268,678.3L268,694.9L268.1,675.8L268.2,698.1L268.3,677L268.3,693.3L268.4,674L268.5,692.4L268.5,681.2L268.6,690.5L268.7,674.8L268.8,696L268.8,674.4L268.9,696.4L269,673.2L269,695.4L269.1,673.7L269.2,656.5L269.3,678.3L269.3,696.7L269.4,668.4L269.5,688.8L269.5,678.8L269.6,693.2L269.7,676.6L269.8,695.3L269.8,674L269.9,696.5L270,676.2L270.1,693.4L270.1,677.8L270.2,693.4L270.3,671.8L270.3,692.3L270.4,671L270.5,692.4L270.6,670.9L270.6,687.5L270.7,677L270.8,690.4L270.8,677.9L270.9,691.7L271,656L271.1,686.3L271.1,676.2L271.2,687.3L271.3,675.6L271.3,690.1L271.4,671.3L271.5,689.2L271.6,672.9L271.6,696.2L271.7,676.7L271.8,692L271.8,672.6L271.9,697.6L272,676.7L272.1,689.7L272.1,676.8L272.2,695.1L272.3,672.4L272.4,688.2L272.4,665.5L272.5,691.6L272.6,665.1L272.6,693.6L272.7,662.9L272.8,692.2L272.9,671.5L272.9,688L273,669.8L273.1,690.6L273.1,675.2L273.2,689.7L273.3,677L273.4,691.2L273.4,673.6L273.5,695L273.6,678.7L273.6,692.8L273.7,671.8L273.8,689.1L273.9,668.1L273.9,694.8L274,668.5L274.1,693.7L274.2,671.8L274.2,688.7L274.3,645.6L274.4,690.2L274.4,667.5L274.5,688L274.6,673.5L274.7,691.1L274.7,673.3L274.8,689.8L274.9,670.1L274.9,685.8L275,656.7L275.1,691.6L275.2,675.6L275.2,691L275.3,674.3L275.4,689L275.4,672.3L275.5,690L275.6,671.5L275.7,688.2L275.7,671.4L275.8,691.2L275.9,654.2L275.9,690.1L276,670.7L276.1,690.2L276.2,673.6L276.2,684.8L276.3,668.3L276.4,687L276.5,673.6L276.5,653.3L276.6,670.4L276.7,685.4L276.7,672.9L276.8,684.8L276.9,652.6L277,687.3L277,670.9L277.1,691.1L277.2,672.5L277.2,690.1L277.3,675.1L277.4,693.9L277.5,678.1L277.5,696.8L277.6,678.3L277.7,695.6L277.7,674.1L277.8,692L277.9,674.4L278,689.3L278,675.6L278.1,689.9L278.2,668.1L278.2,690L278.3,668.5L278.4,692.5L278.5,678.9L278.5,688.3L278.6,674.8L278.7,688.3L278.8,676L278.8,691L278.9,670.7L279,693.1L279,666.3L279.1,689.2L279.2,668.2L279.3,695L279.3,671.6L279.4,695.1L279.5,673.8L279.5,693.1L279.6,671.9L279.7,690.1L279.8,672.6L279.8,684.2L279.9,667.4L280,685.7L280,674.1L280.1,685.7L280.2,673.8L280.3,687L280.3,674.8L280.4,686.3L280.5,674L280.6,688.1L280.6,676.2L280.7,685.1L280.8,675.2L280.8,685L280.9,676.8L281,690.1L281.1,670.8L281.1,691.7L281.2,674.3L281.3,687.7L281.3,676.2L281.4,696.9L281.5,670.9L281.6,694L281.6,669.7L281.7,695.6L281.8,670.3L281.8,694.2L281.9,666.2L282,650L282.1,670.9L282.1,709L282.2,649L282.3,693.5L282.3,677.3L282.4,695.6L282.5,675.3L282.6,692.1L282.6,648.4L282.7,698.4L282.8,668.3L282.9,691.6L282.9,655.9L283,694.1L283.1,670.1L283.1,654.9L283.2,666.5L283.3,684.2L283.4,668.8L283.4,691.1L283.5,667.7L283.6,685.4L283.6,675.1L283.7,686.4L283.8,675.8L283.9,689L283.9,668.1L284,688.8L284.1,671.1L284.1,695L284.2,673.7L284.3,693L284.4,671.2L284.4,665.8L284.5,678.9L284.6,691.7L284.7,675.8L284.7,689.2L284.8,674.8L284.9,690.3L284.9,675.2L285,692.6L285.1,677.6L285.2,660.9L285.2,676.9L285.3,690.2L285.4,675L285.4,688.2L285.5,675.9L285.6,692.3L285.7,670L285.7,697L285.8,668.7L285.9,692.5L285.9,667.8L286,692.5L286.1,676.4L286.2,694.7L286.2,673.3L286.3,688.7L286.4,678.3L286.4,689.2L286.5,672.5L286.6,667.5L286.7,669.7L286.7,689.8L286.8,676.3L286.9,695.8L287,671.5L287,694L287.1,670.1L287.2,689.1L287.2,668.7L287.3,695.2L287.4,676.9L287.5,687.5L287.5,672.3L287.6,691.1L287.7,674L287.7,688.8L287.8,670.5L287.9,688.7L288,672.8L288,690.6L288.1,675.3L288.2,689.7L288.2,673L288.3,691L288.4,671.7L288.5,692L288.5,675L288.6,694.2L288.7,665.9L288.8,695.7L288.8,673.2L288.9,692.3L289,672.2L289,693.8L289.1,675.7L289.2,686.3L289.3,672.5L289.3,693.1L289.4,643L289.5,688.8L289.5,671.5L289.6,690.5L289.7,675.2L289.8,690.3L289.8,677L289.9,687.6L290,676.4L290,691L290.1,673.6L290.2,693.4L290.3,717.6L290.3,696.6L290.4,676.1L290.5,690.3L290.5,673.4L290.6,694.8L290.7,680.7L290.8,690.6L290.8,670.9L290.9,691.1L291,676.3L291.1,688.8L291.1,676.7L291.2,660.8L291.3,664.7L291.3,690.8L291.4,675.1L291.5,692.4L291.6,680.1L291.6,670.1L291.7,679.8L291.8,693.9L291.8,680.1L291.9,691L292,683.4L292.1,696.8L292.1,678.2L292.2,696.2L292.3,682.4L292.3,693.1L292.4,682.5L292.5,694.4L292.6,684L292.6,697.1L292.7,683.9L292.8,691.7L292.8,678.7L292.9,692.4L293,679.3L293.1,691.8L293.1,680.1L293.2,692.9L293.3,665.3L293.4,697.6L293.4,680.6L293.5,697.2L293.6,683L293.6,695.5L293.7,681.4L293.8,701.6L293.9,686.3L293.9,701.6L294,678.9L294.1,696.1L294.1,686.6L294.2,703.5L294.3,680.3L294.4,702.9L294.4,679.8L294.5,698.2L294.6,687.1L294.6,697.8L294.7,681L294.8,697.7L294.9,679L294.9,694L295,681L295.1,698.3L295.2,683.3L295.2,695.1L295.3,679L295.4,694.9L295.4,701.4L295.5,662L295.6,681.2L295.7,662.6L295.7,682.5L295.8,695.2L295.9,678.5L295.9,700.8L296,685.2L296.1,699.6L296.2,682.4L296.2,698.8L296.3,684.8L296.4,701.8L296.4,684.7L296.5,699.3L296.6,671.7L296.7,699L296.7,678.4L296.8,693.6L296.9,680.4L296.9,698.7L297,674.1L297.1,706.5L297.2,676.9L297.2,700.5L297.3,672.3L297.4,656.2L297.5,672.9L297.5,658.7L297.6,677.6L297.7,699.1L297.7,680.3L297.8,697.3L297.9,681.9L298,697.8L298,682.2L298.1,699.9L298.2,681L298.2,701.8L298.3,686.3L298.4,700.8L298.5,674.9L298.5,702.4L298.6,690.9L298.7,701L298.7,686.2L298.8,698.7L298.9,688.9L299,701.2L299,684.2L299.1,700.2L299.2,684.4L299.3,702.8L299.3,671L299.4,696.2L299.5,683.5L299.5,678.8L299.6,668.8L299.7,702.8L299.8,686.4L299.8,699.3L299.9,684.4L300,704.4L300,676.3L300.1,704.4L300.2,686.9L300.3,704.5L300.3,691.3L300.4,710.5L300.5,679.5L300.5,701.6L300.6,690.8L300.7,715.8L300.8,690.1L300.8,699.6L300.9,686.6L301,700.6L301,682.4L301.1,705.9L301.2,684.4L301.3,698.2L301.3,684.3L301.4,674.3L301.5,683.3L301.6,700.8L301.6,683.2L301.7,699.2L301.8,686.7L301.8,681.8L301.9,688.6L302,698.8L302.1,680L302.1,697.9L302.2,686.1L302.3,702.4L302.3,685.7L302.4,701.6L302.5,689.2L302.6,702L302.6,678.7L302.7,680.3L302.8,689.6L302.8,700.1L302.9,684L303,704.6L303.1,687.3L303.1,703.1L303.2,688.7L303.3,704.3L303.3,686L303.4,702.7L303.5,689.4L303.6,700.9L303.6,686.1L303.7,698.9L303.8,689L303.9,701.7L303.9,689.6L304,701L304.1,689.6L304.1,703.3L304.2,689.1L304.3,698.1L304.4,689.7L304.4,702.8L304.5,689.7L304.6,702.1L304.6,689.7L304.7,685L304.8,692.4L304.9,702.5L304.9,688.7L305,699.2L305.1,692.8L305.1,702L305.2,693.2L305.3,703.1L305.4,694.3L305.4,703.8L305.5,693.4L305.6,701.9L305.7,696.3L305.7,704.1L305.8,696.5L305.9,702.7L305.9,696.6L306,706.1L306.1,698.2L306.2,705.8L306.2,698L306.3,707.5L306.4,698.8L306.4,708L306.5,698.8L306.6,705.3L306.7,697.5L306.7,710.2L306.8,697.9L306.9,708.1L306.9,694L307,706.6L307.1,690.2L307.2,704.4L307.2,695.2L307.3,689.3L307.4,694.3L307.4,704.8L307.5,693.6L307.6,707.1L307.7,696L307.7,706.3L307.8,697.4L307.9,706.7L308,697.3L308,706L308.1,698L308.2,707.5L308.2,696.8L308.3,706.6L308.4,694.4L308.5,706.4L308.5,694.4L308.6,705.2" fill="none" stroke="#525ebd" stroke-width="0.7" stroke-linejoin="round" stroke-opacity="0.88" clip-path="url(#cc)"/>
<path d="M38.9,747.6L39.4,747.5L40,747.5L40.5,747.4L41.1,747.3L41.6,747.1L42.1,746.9L42.7,746.7L43.2,746.5L43.8,746.2L44.3,745.9L44.8,745.6L45.4,745.2L45.9,744.9L46.5,744.6L47,744.2L47.5,743.8L48.1,743.3L48.6,742.7L49.1,742.1L49.7,741.3L50.2,740.4L50.8,739.4L51.3,738.4L51.8,737.4L52.4,736.4L52.9,735.4L53.5,734.4L54,733.4L54.5,732.4L55.1,731.4L55.6,730.5L56.2,729.6L56.7,728.7L57.2,727.9L57.8,727L58.3,726.2L58.9,725.4L59.4,724.6L59.9,723.8L60.5,723.1L61,722.3L61.6,721.6L62.1,721L62.6,720.3L63.2,719.7L63.7,719.1L64.3,718.5L64.8,717.9L65.3,717.3L65.9,716.9L66.4,716.4L66.9,716L67.5,715.7L68,715.7L68.6,715.4L69.1,714.3L69.6,715.3L70.2,714.6L70.7,713.9L71.3,713L71.8,713.1L72.3,713.6L72.9,713.6L73.4,712L74,712.8L74.5,711.7L75,713.5L75.6,711L76.1,712.3L76.7,711.7L77.2,711.5L77.7,712.3L78.3,711.8L78.8,713.4L79.4,712L79.9,711.6L80.4,712.7L81,710.7L81.5,710.8L82.1,712.4L82.6,712.6L83.1,711.3L83.7,712.6L84.2,711.2L84.7,711L85.3,712.7L85.8,709.3L86.4,712.1L86.9,711.5L87.4,712.3L88,712.2L88.5,710.7L89.1,710.7L89.6,710.9L90.1,710.7L90.7,711L91.2,710.5L91.8,710.8L92.3,711.7L92.8,711.6L93.4,712.1L93.9,711.6L94.5,710.9L95,711.1L95.5,712L96.1,711.7L96.6,711.2L97.2,711.3L97.7,710L98.2,711.4L98.8,710.1L99.3,711.4L99.9,710L100.4,710.3L100.9,710.6L101.5,711.7L102,711.6L102.5,711.3L103.1,712.4L103.6,711L104.2,709.6L104.7,710.6L105.2,711.7L105.8,711.6L106.3,710.5L106.9,710.1L107.4,711.5L107.9,711.7L108.5,711.3L109,711.5L109.6,712.3L110.1,711.5L110.6,709.7L111.2,709.8L111.7,711.1L112.3,709.4L112.8,709.8L113.3,710.4L113.9,710.9L114.4,710.6L115,710.3L115.5,709.7L116,710.1L116.6,709.1L117.1,709.3L117.7,708.1L118.2,710.6L118.7,709.3L119.3,709.7L119.8,709.7L120.3,709.5L120.9,708.7L121.4,710.1L122,709.2L122.5,709.1L123,709L123.6,708.9L124.1,708.8L124.7,708.7L125.2,708.5L125.7,708.4L126.3,708.3L126.8,708.2L127.4,708.1L127.9,708L128.4,707.9L129,707.7L129.5,707.6L130.1,707.5L130.6,707.4L131.1,707.3L131.7,707.2L132.2,707.1L132.8,707L133.3,706.9L133.8,706.9L134.4,707L134.9,707L135.5,707.1L136,707.3L136.5,707.4L137.1,707.6L137.6,707.7L138.1,707.9L138.7,708L139.2,708.2L139.8,708.5L140.3,708.8L140.8,709L141.4,709.4L141.9,709.7L142.5,710.1L143,710.4L143.5,710.7L144.1,711.1L144.6,711.4L145.2,711.8L145.7,712.3L146.2,712.9L146.8,713.5L147.3,714.2L147.9,715L148.4,715.9L148.9,716.8L149.5,717.7L150,718.7L150.6,719.6L151.1,720.6L151.6,721.5L152.2,722.5L152.7,723.5L153.3,724.4L153.8,725.4L154.3,726.4L154.9,727.3L155.4,728.3L155.9,729.2L156.5,730.1L157,730.9L157.6,731.6L158.1,732.3L158.6,733L159.2,733.5L159.7,734.1L160.3,734.6L160.8,735.2L161.3,736L161.9,735.2L162.4,735.2L163,735.5L163.5,738.4L164,737.5L164.6,737.5L165.1,739.1L165.7,737.8L166.2,738.1L166.7,739.2L167.3,739.7L167.8,739.2L168.4,739.9L168.9,739.8L169.4,740.3L170,739.2L170.5,740L171.1,741.3L171.6,740.9L172.1,739.5L172.7,740.8L173.2,740.1L173.8,739.1L174.3,741L174.8,739.2L175.4,739L175.9,740.1L176.4,740.3L177,740.4L177.5,739.1L178.1,739.5L178.6,739.6L179.1,740.2L179.7,739.4L180.2,740.2L180.8,739.3L181.3,740.9L181.8,740L182.4,739.9L182.9,740.7L183.5,740L184,739.5L184.5,739.9L185.1,739.4L185.6,740.5L186.2,739.8L186.7,740.5L187.2,741.6L187.8,740.9L188.3,741.1L188.9,740.6L189.4,739.7L189.9,739.9L190.5,740.5L191,739.2L191.6,739.9L192.1,739.7L192.6,739.6L193.2,740.7L193.7,741.9L194.2,739.8L194.8,740.8L195.3,737.9L195.9,739.6L196.4,739.8L196.9,740.3L197.5,740.2L198,740.5L198.6,740.4L199.1,740.3L199.6,739.6L200.2,739.4L200.7,739.1L201.3,739.1L201.8,740.7L202.3,741.6L202.9,739.7L203.4,739.7L204,740.6L204.5,740.9L205,740.5L205.6,740.6L206.1,740L206.7,741L207.2,740.6L207.7,740.6L208.3,741.6L208.8,741.5L209.4,740.7L209.9,741.5L210.4,741.6L211,741.8L211.5,741.9L212,742.1L212.6,742.2L213.1,742.4L213.7,742.5L214.2,742.7L214.7,742.9L215.3,743.1L215.8,743.3L216.4,743.6L216.9,743.8L217.4,744L218,744.2L218.5,744.4L219.1,744.6L219.6,744.7L220.1,744.9L220.7,745L221.2,745.2L221.8,745.3L222.3,745.3L222.8,745.4L223.4,745.5L223.9,745.6L224.5,745.7L225,745.8L225.5,745.9L226.1,745.9L226.6,746L227.2,746.1L227.7,746.2L228.2,746.3L228.8,746.4L229.3,746.4L229.8,746.4L230.4,746.4L230.9,746.4L231.5,746.4L232,746.3L232.5,746.2L233.1,746.2L233.6,746.1L234.2,746L234.7,745.9L235.2,745.7L235.8,745.6L236.3,745.4L236.9,745.2L237.4,745L237.9,744.8L238.5,744.5L239,744.2L239.6,743.9L240.1,743.5L240.6,743L241.2,742.5L241.7,741.9L242.3,741.3L242.8,740.7L243.3,740.1L243.9,739.5L244.4,738.9L245,738.2L245.5,737.6L246,736.9L246.6,736.1L247.1,735.4L247.6,734.6L248.2,733.7L248.7,732.9L249.3,732.1L249.8,731.3L250.3,730.4L250.9,729.6L251.4,728.8L252,728L252.5,727.2L253,726.4L253.6,725.6L254.1,724.8L254.7,724L255.2,723.2L255.7,722.5L256.3,721.7L256.8,720.9L257.4,720.2L257.9,719.6L258.4,718.9L259,718.4L259.5,717.8L260.1,717.4L260.6,716.9L261.1,716.4L261.7,716L262.2,715.5L262.8,715.1L263.3,714.7L263.8,714.3L264.4,714L264.9,713.8L265.4,713.6L266,713.4L266.5,713.2L267.1,713.1L267.6,712.8L268.1,712.6L268.7,713L269.2,711.6L269.8,712.5L270.3,711.2L270.8,712.4L271.4,711.2L271.9,711.1L272.5,712.2L273,711.3L273.5,711.8L274.1,711.7L274.6,711.8L275.2,712.8L275.7,712.7L276.2,712.2L276.8,711.3L277.3,711.7L277.9,712.8L278.4,712.1L278.9,711.1L279.5,713.4L280,712.2L280.6,710.4L281.1,711.7L281.6,712.1L282.2,710.5L282.7,710.1L283.2,712.5L283.8,712.7L284.3,711.1L284.9,710.7L285.4,712.3L285.9,711.7L286.5,710L287,712.1L287.6,710.7L288.1,711.2L288.6,710.4L289.2,711.4L289.7,711.3L290.3,711.7L290.8,710.8L291.3,711.8L291.9,710.3L292.4,711.2L293,710.5L293.5,712.1L294,712.3L294.6,711.3L295.1,712.7L295.7,710L296.2,709.7L296.7,711.7L297.3,710L297.8,713.1L298.4,710.7L298.9,711.1L299.4,711L300,710.6L300.5,711.3L301,709.4L301.6,711.3L302.1,710.6L302.7,709.8L303.2,710.3L303.7,711.9L304.3,710.9L304.8,711.6L305.4,710.3L305.9,711.1L306.4,709.6L307,710.8L307.5,712L308.1,711.7L308.6,710.5" fill="none" stroke="#e22f34" stroke-width="1.15" stroke-linejoin="round" clip-path="url(#cc)"/>
<rect x="163.7" y="627.3" width="98.5" height="38.6" fill="#fff" stroke="#666" stroke-width="0.8"/>
<path d="M166.7,633.6H187.1" stroke="#303030" stroke-width="0.8"/>
<text x="191.6" y="637.2" class="lg">Applied voltage</text>
<path d="M166.7,646.6H187.1" stroke="#e22f34" stroke-width="0.8"/>
<text x="191.6" y="650.2" class="lg">Gas voltage</text>
<path d="M166.7,659.2H187.1" stroke="#525ebd" stroke-width="0.8"/>
<text x="191.6" y="662.8" class="lg">Current</text>
<path d="M308.6,618.3L38.9,618.3L38.9,835L308.6,835" fill="none" stroke="#2e2e2e" stroke-width="1.1"/>
<path d="M308.6,617.8L308.6,835.5" fill="none" stroke="#3e479f" stroke-width="1.2"/>
<path d="M38.9,618.3h4M38.9,629.1h2.2M38.9,640h4M38.9,650.8h2.2M38.9,661.6h4M38.9,672.5h2.2M38.9,683.3h4M38.9,694.1h2.2M38.9,705h4M38.9,715.8h2.2M38.9,726.6h4M38.9,737.5h2.2M38.9,748.3h4M38.9,759.2h2.2M38.9,770h4M38.9,780.8h2.2M38.9,791.7h4M38.9,802.5h2.2M38.9,813.3h4M38.9,824.2h2.2M38.9,835h4M38.9,835v-4M56.9,835v-2.2M74.9,835v-4M92.8,835v-2.2M110.8,835v-4M128.8,835v-2.2M146.8,835v-4M164.8,835v-2.2M182.7,835v-4M200.7,835v-2.2M218.7,835v-4M236.7,835v-2.2M254.7,835v-4M272.6,835v-2.2M290.6,835v-4M308.6,835v-2.2" stroke="#2e2e2e" stroke-width="1" fill="none"/>
<path d="M308.6,618.3h-4M308.6,627.3h-2.2M308.6,636.4h-4M308.6,645.4h-2.2M308.6,654.4h-4M308.6,663.4h-2.2M308.6,672.5h-4M308.6,681.5h-2.2M308.6,690.5h-4M308.6,699.6h-2.2M308.6,708.6h-4M308.6,717.6h-2.2M308.6,726.6h-4M308.6,735.7h-2.2M308.6,744.7h-4M308.6,753.7h-2.2M308.6,762.8h-4M308.6,771.8h-2.2M308.6,780.8h-4M308.6,789.9h-2.2M308.6,798.9h-4M308.6,807.9h-2.2M308.6,816.9h-4M308.6,826h-2.2M308.6,835h-4" stroke="#3e479f" stroke-width="1" fill="none"/>
<text x="34.7" y="622.6" text-anchor="end" style="font-size:12.19px" class="tk">10</text>
<text x="34.7" y="644.3" text-anchor="end" style="font-size:12.19px" class="tk">8</text>
<text x="34.7" y="665.9" text-anchor="end" style="font-size:12.19px" class="tk">6</text>
<text x="34.7" y="687.6" text-anchor="end" style="font-size:12.19px" class="tk">4</text>
<text x="34.7" y="709.3" text-anchor="end" style="font-size:12.19px" class="tk">2</text>
<text x="34.7" y="730.9" text-anchor="end" style="font-size:12.19px" class="tk">0</text>
<text x="34.7" y="752.6" text-anchor="end" style="font-size:12.19px" class="tk">-2</text>
<text x="34.7" y="774.3" text-anchor="end" style="font-size:12.19px" class="tk">-4</text>
<text x="34.7" y="796" text-anchor="end" style="font-size:12.19px" class="tk">-6</text>
<text x="34.7" y="817.6" text-anchor="end" style="font-size:12.19px" class="tk">-8</text>
<text x="34.7" y="839.3" text-anchor="end" style="font-size:12.19px" class="tk">-10</text>
<text x="38.9" y="848.8" text-anchor="middle" style="font-size:12.19px" class="tk">0</text>
<text x="74.9" y="848.8" text-anchor="middle" style="font-size:12.19px" class="tk">20</text>
<text x="110.8" y="848.8" text-anchor="middle" style="font-size:12.19px" class="tk">40</text>
<text x="146.8" y="848.8" text-anchor="middle" style="font-size:12.19px" class="tk">60</text>
<text x="182.7" y="848.8" text-anchor="middle" style="font-size:12.19px" class="tk">80</text>
<text x="218.7" y="848.8" text-anchor="middle" style="font-size:12.19px" class="tk">100</text>
<text x="254.7" y="848.8" text-anchor="middle" style="font-size:12.19px" class="tk">120</text>
<text x="290.6" y="848.8" text-anchor="middle" style="font-size:12.19px" class="tk">140</text>
<text x="313" y="622.1" style="font-size:12.19px" class="tk bl">60</text>
<text x="313" y="640.2" style="font-size:12.19px" class="tk bl">50</text>
<text x="313" y="658.2" style="font-size:12.19px" class="tk bl">40</text>
<text x="313" y="676.3" style="font-size:12.19px" class="tk bl">30</text>
<text x="313" y="694.3" style="font-size:12.19px" class="tk bl">20</text>
<text x="313" y="712.4" style="font-size:12.19px" class="tk bl">10</text>
<text x="313" y="730.4" style="font-size:12.19px" class="tk bl">0</text>
<text x="313" y="748.5" style="font-size:12.19px" class="tk bl">-10</text>
<text x="313" y="766.6" style="font-size:12.19px" class="tk bl">-20</text>
<text x="313" y="784.6" style="font-size:12.19px" class="tk bl">-30</text>
<text x="313" y="802.7" style="font-size:12.19px" class="tk bl">-40</text>
<text x="313" y="820.7" style="font-size:12.19px" class="tk bl">-50</text>
<text x="313" y="838.8" style="font-size:12.19px" class="tk bl">-60</text>
<text transform="translate(10.3,719) rotate(-90)" text-anchor="middle" style="font-size:13.56px" class="tt">Voltage (kV)</text>
<text transform="translate(344.8,727) rotate(-90)" text-anchor="middle" style="font-size:13.56px" class="tt bl">Current (mA)</text>
<text x="173.9" y="865.7" text-anchor="middle" style="font-size:13.56px" class="tt">Time (us)</text>
<text x="173.6" y="906.5" text-anchor="middle" class="cap">(c)</text>
</svg>
</body></html>
